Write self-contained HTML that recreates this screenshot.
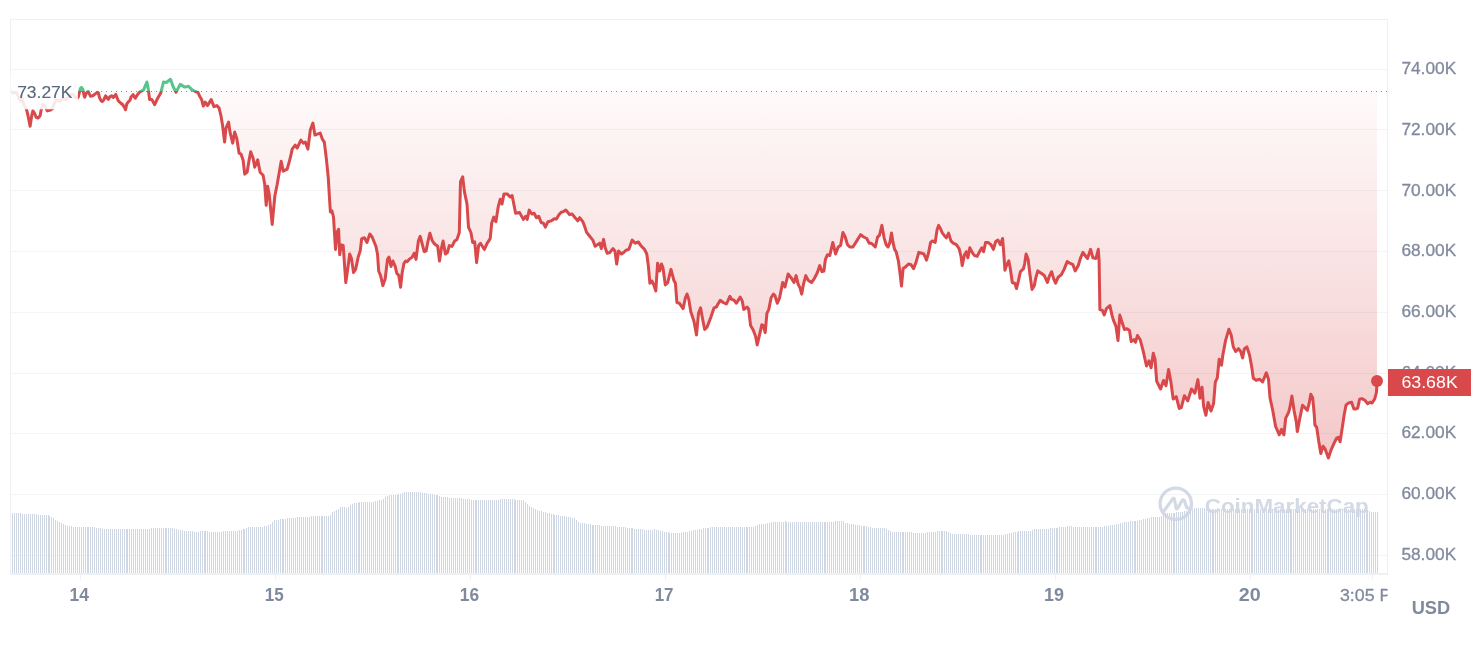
<!DOCTYPE html>
<html><head><meta charset="utf-8"><style>
html,body{margin:0;padding:0;background:#fff;}
body{width:1478px;height:648px;overflow:hidden;position:relative;font-family:"Liberation Sans",sans-serif;}
svg{position:absolute;left:0;top:0;will-change:transform;}
</style></head><body>
<svg width="1478" height="648" viewBox="0 0 1478 648">
<defs>
<linearGradient id="rg" gradientUnits="userSpaceOnUse" x1="0" y1="57" x2="0" y2="458">
<stop offset="0" stop-color="#d9484a" stop-opacity="0"/>
<stop offset="1" stop-color="#d9484a" stop-opacity="0.30"/>
</linearGradient>
<linearGradient id="gg" gradientUnits="userSpaceOnUse" x1="0" y1="78" x2="0" y2="92">
<stop offset="0" stop-color="#58c38b" stop-opacity="0.06"/>
<stop offset="1" stop-color="#58c38b" stop-opacity="0"/>
</linearGradient>
<clipPath id="below"><rect x="0" y="91" width="1478" height="600"/></clipPath>
<clipPath id="above"><rect x="0" y="0" width="1478" height="91"/></clipPath>
<clipPath id="plot"><rect x="11" y="20" width="1376" height="553"/></clipPath>
<clipPath id="xclip"><rect x="0" y="560" width="1387.5" height="88"/></clipPath>
</defs>
<g fill="#f3f4f6" shape-rendering="crispEdges"><rect x="11" y="69" width="1376" height="1"/><rect x="11" y="129" width="1376" height="1"/><rect x="11" y="190" width="1376" height="1"/><rect x="11" y="251" width="1376" height="1"/><rect x="11" y="312" width="1376" height="1"/><rect x="11" y="373" width="1376" height="1"/><rect x="11" y="433" width="1376" height="1"/><rect x="11" y="494" width="1376" height="1"/><rect x="11" y="555" width="1376" height="1"/></g>
<g fill="#cfd6e4" shape-rendering="crispEdges">
<rect x="12" y="512.9" width="1" height="60.1"/>
<rect x="14" y="513.1" width="1" height="59.9"/>
<rect x="16" y="513.2" width="1" height="59.8"/>
<rect x="18" y="513.3" width="1" height="59.7"/>
<rect x="20" y="513.4" width="1" height="59.6"/>
<rect x="22" y="513.6" width="1" height="59.4"/>
<rect x="24" y="513.7" width="1" height="59.3"/>
<rect x="26" y="513.8" width="1" height="59.2"/>
<rect x="28" y="513.9" width="1" height="59.1"/>
<rect x="30" y="514.1" width="1" height="58.9"/>
<rect x="32" y="514.2" width="1" height="58.8"/>
<rect x="34" y="514.3" width="1" height="58.7"/>
<rect x="36" y="514.4" width="1" height="58.6"/>
<rect x="38" y="514.6" width="1" height="58.4"/>
<rect x="40" y="514.7" width="1" height="58.3"/>
<rect x="42" y="514.9" width="1" height="58.1"/>
<rect x="44" y="515" width="1" height="58"/>
<rect x="46" y="515.1" width="1" height="57.9"/>
<rect x="48" y="515.3" width="1" height="57.7"/>
<rect x="49" y="515.6" width="1" height="57.4"/>
<rect x="51" y="516.9" width="1" height="56.1"/>
<rect x="53" y="518.2" width="1" height="54.8"/>
<rect x="55" y="519.5" width="1" height="53.5"/>
<rect x="57" y="520.7" width="1" height="52.3"/>
<rect x="59" y="521.7" width="1" height="51.3"/>
<rect x="61" y="522.8" width="1" height="50.2"/>
<rect x="63" y="523.9" width="1" height="49.1"/>
<rect x="65" y="525" width="1" height="48"/>
<rect x="67" y="525.6" width="1" height="47.4"/>
<rect x="69" y="525.9" width="1" height="47.1"/>
<rect x="71" y="526.3" width="1" height="46.7"/>
<rect x="73" y="526.6" width="1" height="46.4"/>
<rect x="75" y="526.9" width="1" height="46.1"/>
<rect x="77" y="527" width="1" height="46"/>
<rect x="79" y="527.1" width="1" height="45.9"/>
<rect x="81" y="527.1" width="1" height="45.9"/>
<rect x="83" y="527.2" width="1" height="45.8"/>
<rect x="85" y="527.2" width="1" height="45.8"/>
<rect x="87" y="527.3" width="1" height="45.7"/>
<rect x="88" y="527.3" width="1" height="45.7"/>
<rect x="90" y="527.3" width="1" height="45.7"/>
<rect x="92" y="527.4" width="1" height="45.6"/>
<rect x="94" y="527.4" width="1" height="45.6"/>
<rect x="96" y="527.5" width="1" height="45.5"/>
<rect x="98" y="527.7" width="1" height="45.3"/>
<rect x="100" y="528.1" width="1" height="44.9"/>
<rect x="102" y="528.5" width="1" height="44.5"/>
<rect x="104" y="528.5" width="1" height="44.5"/>
<rect x="106" y="528.5" width="1" height="44.5"/>
<rect x="108" y="528.5" width="1" height="44.5"/>
<rect x="110" y="528.5" width="1" height="44.5"/>
<rect x="112" y="528.5" width="1" height="44.5"/>
<rect x="114" y="528.5" width="1" height="44.5"/>
<rect x="116" y="528.5" width="1" height="44.5"/>
<rect x="118" y="528.5" width="1" height="44.5"/>
<rect x="120" y="528.5" width="1" height="44.5"/>
<rect x="122" y="528.5" width="1" height="44.5"/>
<rect x="124" y="528.5" width="1" height="44.5"/>
<rect x="126" y="529.1" width="1" height="43.9"/>
<rect x="127" y="529.2" width="1" height="43.8"/>
<rect x="129" y="529.2" width="1" height="43.8"/>
<rect x="131" y="529.2" width="1" height="43.8"/>
<rect x="133" y="529.2" width="1" height="43.8"/>
<rect x="135" y="529.2" width="1" height="43.8"/>
<rect x="137" y="529.2" width="1" height="43.8"/>
<rect x="139" y="529.2" width="1" height="43.8"/>
<rect x="141" y="529.2" width="1" height="43.8"/>
<rect x="143" y="529.2" width="1" height="43.8"/>
<rect x="145" y="529.2" width="1" height="43.8"/>
<rect x="147" y="529.2" width="1" height="43.8"/>
<rect x="149" y="528.5" width="1" height="44.5"/>
<rect x="151" y="528" width="1" height="45"/>
<rect x="153" y="528" width="1" height="45"/>
<rect x="155" y="528" width="1" height="45"/>
<rect x="157" y="528" width="1" height="45"/>
<rect x="159" y="528" width="1" height="45"/>
<rect x="161" y="528" width="1" height="45"/>
<rect x="163" y="528" width="1" height="45"/>
<rect x="165" y="528" width="1" height="45"/>
<rect x="166" y="528" width="1" height="45"/>
<rect x="168" y="528" width="1" height="45"/>
<rect x="170" y="528" width="1" height="45"/>
<rect x="172" y="528.4" width="1" height="44.6"/>
<rect x="174" y="528.8" width="1" height="44.2"/>
<rect x="176" y="529.2" width="1" height="43.8"/>
<rect x="178" y="529.6" width="1" height="43.4"/>
<rect x="180" y="530" width="1" height="43"/>
<rect x="182" y="530.4" width="1" height="42.6"/>
<rect x="184" y="530.9" width="1" height="42.1"/>
<rect x="186" y="531.1" width="1" height="41.9"/>
<rect x="188" y="531.1" width="1" height="41.9"/>
<rect x="190" y="531.1" width="1" height="41.9"/>
<rect x="192" y="531.1" width="1" height="41.9"/>
<rect x="194" y="531.9" width="1" height="41.1"/>
<rect x="196" y="531.9" width="1" height="41.1"/>
<rect x="198" y="531.6" width="1" height="41.4"/>
<rect x="200" y="531.4" width="1" height="41.6"/>
<rect x="202" y="531.1" width="1" height="41.9"/>
<rect x="204" y="531.2" width="1" height="41.8"/>
<rect x="205" y="531.3" width="1" height="41.7"/>
<rect x="207" y="531.4" width="1" height="41.6"/>
<rect x="209" y="531.5" width="1" height="41.5"/>
<rect x="211" y="531.6" width="1" height="41.4"/>
<rect x="213" y="531.7" width="1" height="41.3"/>
<rect x="215" y="531.8" width="1" height="41.2"/>
<rect x="217" y="531.9" width="1" height="41.1"/>
<rect x="219" y="532" width="1" height="41"/>
<rect x="221" y="531.6" width="1" height="41.4"/>
<rect x="223" y="531.2" width="1" height="41.8"/>
<rect x="225" y="531" width="1" height="42"/>
<rect x="227" y="531" width="1" height="42"/>
<rect x="229" y="530.9" width="1" height="42.1"/>
<rect x="231" y="530.8" width="1" height="42.2"/>
<rect x="233" y="530.7" width="1" height="42.3"/>
<rect x="235" y="530.6" width="1" height="42.4"/>
<rect x="237" y="530.5" width="1" height="42.5"/>
<rect x="239" y="530.4" width="1" height="42.6"/>
<rect x="241" y="530.3" width="1" height="42.7"/>
<rect x="243" y="529.4" width="1" height="43.6"/>
<rect x="244" y="529" width="1" height="44"/>
<rect x="246" y="528.2" width="1" height="44.8"/>
<rect x="248" y="527.4" width="1" height="45.6"/>
<rect x="250" y="527.3" width="1" height="45.7"/>
<rect x="252" y="527.2" width="1" height="45.8"/>
<rect x="254" y="527.2" width="1" height="45.8"/>
<rect x="256" y="527.1" width="1" height="45.9"/>
<rect x="258" y="527.1" width="1" height="45.9"/>
<rect x="260" y="527" width="1" height="46"/>
<rect x="262" y="526.6" width="1" height="46.4"/>
<rect x="264" y="526.2" width="1" height="46.8"/>
<rect x="266" y="525.7" width="1" height="47.3"/>
<rect x="268" y="525.1" width="1" height="47.9"/>
<rect x="270" y="523.5" width="1" height="49.5"/>
<rect x="272" y="521.9" width="1" height="51.1"/>
<rect x="274" y="520.4" width="1" height="52.6"/>
<rect x="276" y="520.1" width="1" height="52.9"/>
<rect x="278" y="519.7" width="1" height="53.3"/>
<rect x="280" y="519.4" width="1" height="53.6"/>
<rect x="282" y="519" width="1" height="54"/>
<rect x="283" y="518.8" width="1" height="54.2"/>
<rect x="285" y="518.5" width="1" height="54.5"/>
<rect x="287" y="518.3" width="1" height="54.7"/>
<rect x="289" y="518.1" width="1" height="54.9"/>
<rect x="291" y="517.9" width="1" height="55.1"/>
<rect x="293" y="517.8" width="1" height="55.2"/>
<rect x="295" y="517.6" width="1" height="55.4"/>
<rect x="297" y="517.4" width="1" height="55.6"/>
<rect x="299" y="517.2" width="1" height="55.8"/>
<rect x="301" y="517.1" width="1" height="55.9"/>
<rect x="303" y="516.9" width="1" height="56.1"/>
<rect x="305" y="516.8" width="1" height="56.2"/>
<rect x="307" y="516.6" width="1" height="56.4"/>
<rect x="309" y="516.5" width="1" height="56.5"/>
<rect x="311" y="516.3" width="1" height="56.7"/>
<rect x="313" y="516.3" width="1" height="56.7"/>
<rect x="315" y="516.3" width="1" height="56.7"/>
<rect x="317" y="516.3" width="1" height="56.7"/>
<rect x="319" y="516.3" width="1" height="56.7"/>
<rect x="321" y="516.3" width="1" height="56.7"/>
<rect x="322" y="516.3" width="1" height="56.7"/>
<rect x="324" y="516.3" width="1" height="56.7"/>
<rect x="326" y="516.3" width="1" height="56.7"/>
<rect x="328" y="516.3" width="1" height="56.7"/>
<rect x="330" y="514.6" width="1" height="58.4"/>
<rect x="332" y="512.4" width="1" height="60.6"/>
<rect x="334" y="511.1" width="1" height="61.9"/>
<rect x="336" y="509.8" width="1" height="63.2"/>
<rect x="338" y="508.5" width="1" height="64.5"/>
<rect x="340" y="507.2" width="1" height="65.8"/>
<rect x="342" y="507" width="1" height="66"/>
<rect x="344" y="507.4" width="1" height="65.6"/>
<rect x="346" y="507.8" width="1" height="65.2"/>
<rect x="348" y="506.7" width="1" height="66.3"/>
<rect x="350" y="504.6" width="1" height="68.4"/>
<rect x="352" y="503.8" width="1" height="69.2"/>
<rect x="354" y="503.4" width="1" height="69.6"/>
<rect x="356" y="503" width="1" height="70"/>
<rect x="358" y="502.6" width="1" height="70.4"/>
<rect x="359" y="502.4" width="1" height="70.6"/>
<rect x="361" y="502.2" width="1" height="70.8"/>
<rect x="363" y="502.2" width="1" height="70.8"/>
<rect x="365" y="502.2" width="1" height="70.8"/>
<rect x="367" y="502.2" width="1" height="70.8"/>
<rect x="369" y="502.2" width="1" height="70.8"/>
<rect x="371" y="501.9" width="1" height="71.1"/>
<rect x="373" y="501.6" width="1" height="71.4"/>
<rect x="375" y="501.1" width="1" height="71.9"/>
<rect x="377" y="500.6" width="1" height="72.4"/>
<rect x="379" y="500" width="1" height="73"/>
<rect x="381" y="499.5" width="1" height="73.5"/>
<rect x="383" y="498.6" width="1" height="74.4"/>
<rect x="385" y="496.8" width="1" height="76.2"/>
<rect x="387" y="495.5" width="1" height="77.5"/>
<rect x="389" y="495.3" width="1" height="77.7"/>
<rect x="391" y="495.1" width="1" height="77.9"/>
<rect x="393" y="494.9" width="1" height="78.1"/>
<rect x="395" y="494.7" width="1" height="78.3"/>
<rect x="397" y="494.5" width="1" height="78.5"/>
<rect x="398" y="494.4" width="1" height="78.6"/>
<rect x="400" y="493.8" width="1" height="79.2"/>
<rect x="402" y="493.1" width="1" height="79.9"/>
<rect x="404" y="492.4" width="1" height="80.6"/>
<rect x="406" y="492.2" width="1" height="80.8"/>
<rect x="408" y="492.2" width="1" height="80.8"/>
<rect x="410" y="492.2" width="1" height="80.8"/>
<rect x="412" y="492.2" width="1" height="80.8"/>
<rect x="414" y="492.2" width="1" height="80.8"/>
<rect x="416" y="492.2" width="1" height="80.8"/>
<rect x="418" y="492.2" width="1" height="80.8"/>
<rect x="420" y="492.2" width="1" height="80.8"/>
<rect x="422" y="492.5" width="1" height="80.5"/>
<rect x="424" y="492.8" width="1" height="80.2"/>
<rect x="426" y="493.1" width="1" height="79.9"/>
<rect x="428" y="493.5" width="1" height="79.5"/>
<rect x="430" y="493.8" width="1" height="79.2"/>
<rect x="432" y="494.2" width="1" height="78.8"/>
<rect x="434" y="494.6" width="1" height="78.4"/>
<rect x="436" y="495" width="1" height="78"/>
<rect x="437" y="495.2" width="1" height="77.8"/>
<rect x="439" y="495.8" width="1" height="77.2"/>
<rect x="441" y="496.5" width="1" height="76.5"/>
<rect x="443" y="497.1" width="1" height="75.9"/>
<rect x="445" y="497.2" width="1" height="75.8"/>
<rect x="447" y="497.4" width="1" height="75.6"/>
<rect x="449" y="497.5" width="1" height="75.5"/>
<rect x="451" y="497.7" width="1" height="75.3"/>
<rect x="453" y="497.8" width="1" height="75.2"/>
<rect x="455" y="498" width="1" height="75"/>
<rect x="457" y="498.1" width="1" height="74.9"/>
<rect x="459" y="498.3" width="1" height="74.7"/>
<rect x="461" y="498.4" width="1" height="74.6"/>
<rect x="463" y="498.6" width="1" height="74.4"/>
<rect x="465" y="498.8" width="1" height="74.2"/>
<rect x="467" y="499" width="1" height="74"/>
<rect x="469" y="499.2" width="1" height="73.8"/>
<rect x="471" y="500" width="1" height="73"/>
<rect x="473" y="500.2" width="1" height="72.8"/>
<rect x="475" y="500.2" width="1" height="72.8"/>
<rect x="476" y="500.2" width="1" height="72.8"/>
<rect x="478" y="500.2" width="1" height="72.8"/>
<rect x="480" y="500.2" width="1" height="72.8"/>
<rect x="482" y="500.2" width="1" height="72.8"/>
<rect x="484" y="500.2" width="1" height="72.8"/>
<rect x="486" y="500.2" width="1" height="72.8"/>
<rect x="488" y="500.2" width="1" height="72.8"/>
<rect x="490" y="500.2" width="1" height="72.8"/>
<rect x="492" y="500.2" width="1" height="72.8"/>
<rect x="494" y="500.2" width="1" height="72.8"/>
<rect x="496" y="500.2" width="1" height="72.8"/>
<rect x="498" y="500.2" width="1" height="72.8"/>
<rect x="500" y="499.4" width="1" height="73.6"/>
<rect x="502" y="499" width="1" height="74"/>
<rect x="504" y="499.1" width="1" height="73.9"/>
<rect x="506" y="499.2" width="1" height="73.8"/>
<rect x="508" y="499.2" width="1" height="73.8"/>
<rect x="510" y="499.3" width="1" height="73.7"/>
<rect x="512" y="499.4" width="1" height="73.6"/>
<rect x="514" y="499.4" width="1" height="73.6"/>
<rect x="515" y="499.5" width="1" height="73.5"/>
<rect x="517" y="499.5" width="1" height="73.5"/>
<rect x="519" y="499.6" width="1" height="73.4"/>
<rect x="521" y="499.6" width="1" height="73.4"/>
<rect x="523" y="500" width="1" height="73"/>
<rect x="525" y="502" width="1" height="71"/>
<rect x="527" y="503.9" width="1" height="69.1"/>
<rect x="529" y="505.5" width="1" height="67.5"/>
<rect x="531" y="507" width="1" height="66"/>
<rect x="533" y="508.2" width="1" height="64.8"/>
<rect x="535" y="509" width="1" height="64"/>
<rect x="537" y="509.8" width="1" height="63.2"/>
<rect x="539" y="510.6" width="1" height="62.4"/>
<rect x="541" y="511.3" width="1" height="61.7"/>
<rect x="543" y="511.8" width="1" height="61.2"/>
<rect x="545" y="512.4" width="1" height="60.6"/>
<rect x="547" y="513" width="1" height="60"/>
<rect x="549" y="513.4" width="1" height="59.6"/>
<rect x="551" y="513.9" width="1" height="59.1"/>
<rect x="553" y="514.3" width="1" height="58.7"/>
<rect x="554" y="514.5" width="1" height="58.5"/>
<rect x="556" y="514.9" width="1" height="58.1"/>
<rect x="558" y="515.2" width="1" height="57.8"/>
<rect x="560" y="515.5" width="1" height="57.5"/>
<rect x="562" y="515.9" width="1" height="57.1"/>
<rect x="564" y="516.2" width="1" height="56.8"/>
<rect x="566" y="516.5" width="1" height="56.5"/>
<rect x="568" y="516.9" width="1" height="56.1"/>
<rect x="570" y="517.3" width="1" height="55.7"/>
<rect x="572" y="517.7" width="1" height="55.3"/>
<rect x="574" y="518.2" width="1" height="54.8"/>
<rect x="576" y="519.9" width="1" height="53.1"/>
<rect x="578" y="521.6" width="1" height="51.4"/>
<rect x="580" y="522.5" width="1" height="50.5"/>
<rect x="582" y="522.9" width="1" height="50.1"/>
<rect x="584" y="523.4" width="1" height="49.6"/>
<rect x="586" y="523.8" width="1" height="49.2"/>
<rect x="588" y="524" width="1" height="49"/>
<rect x="590" y="524.3" width="1" height="48.7"/>
<rect x="592" y="524.5" width="1" height="48.5"/>
<rect x="593" y="524.6" width="1" height="48.4"/>
<rect x="595" y="524.8" width="1" height="48.2"/>
<rect x="597" y="525.1" width="1" height="47.9"/>
<rect x="599" y="525.3" width="1" height="47.7"/>
<rect x="601" y="525.5" width="1" height="47.5"/>
<rect x="603" y="525.6" width="1" height="47.4"/>
<rect x="605" y="525.8" width="1" height="47.2"/>
<rect x="607" y="525.9" width="1" height="47.1"/>
<rect x="609" y="526" width="1" height="47"/>
<rect x="611" y="526.1" width="1" height="46.9"/>
<rect x="613" y="526.2" width="1" height="46.8"/>
<rect x="615" y="526.4" width="1" height="46.6"/>
<rect x="617" y="526.5" width="1" height="46.5"/>
<rect x="619" y="526.6" width="1" height="46.4"/>
<rect x="621" y="526.7" width="1" height="46.3"/>
<rect x="623" y="526.9" width="1" height="46.1"/>
<rect x="625" y="527.2" width="1" height="45.8"/>
<rect x="627" y="527.6" width="1" height="45.4"/>
<rect x="629" y="527.9" width="1" height="45.1"/>
<rect x="631" y="528.3" width="1" height="44.7"/>
<rect x="632" y="528.4" width="1" height="44.6"/>
<rect x="634" y="528.7" width="1" height="44.3"/>
<rect x="636" y="528.8" width="1" height="44.2"/>
<rect x="638" y="529" width="1" height="44"/>
<rect x="640" y="529.2" width="1" height="43.8"/>
<rect x="642" y="529.4" width="1" height="43.6"/>
<rect x="644" y="529.6" width="1" height="43.4"/>
<rect x="646" y="529.8" width="1" height="43.2"/>
<rect x="648" y="530" width="1" height="43"/>
<rect x="650" y="530" width="1" height="43"/>
<rect x="652" y="529.6" width="1" height="43.4"/>
<rect x="654" y="529.2" width="1" height="43.8"/>
<rect x="656" y="529.6" width="1" height="43.4"/>
<rect x="658" y="530.1" width="1" height="42.9"/>
<rect x="660" y="530.6" width="1" height="42.4"/>
<rect x="662" y="531.1" width="1" height="41.9"/>
<rect x="664" y="531.5" width="1" height="41.5"/>
<rect x="666" y="531.9" width="1" height="41.1"/>
<rect x="668" y="532.3" width="1" height="40.7"/>
<rect x="669" y="532.5" width="1" height="40.5"/>
<rect x="671" y="533" width="1" height="40"/>
<rect x="673" y="532.9" width="1" height="40.1"/>
<rect x="675" y="532.8" width="1" height="40.2"/>
<rect x="677" y="532.7" width="1" height="40.3"/>
<rect x="679" y="532.6" width="1" height="40.4"/>
<rect x="681" y="532.5" width="1" height="40.5"/>
<rect x="683" y="532.4" width="1" height="40.6"/>
<rect x="685" y="532" width="1" height="41"/>
<rect x="687" y="531.6" width="1" height="41.4"/>
<rect x="689" y="531.2" width="1" height="41.8"/>
<rect x="691" y="530.7" width="1" height="42.3"/>
<rect x="693" y="530.3" width="1" height="42.7"/>
<rect x="695" y="529.9" width="1" height="43.1"/>
<rect x="697" y="529.5" width="1" height="43.5"/>
<rect x="699" y="529.1" width="1" height="43.9"/>
<rect x="701" y="528.7" width="1" height="44.3"/>
<rect x="703" y="528.4" width="1" height="44.6"/>
<rect x="705" y="528.1" width="1" height="44.9"/>
<rect x="707" y="527.8" width="1" height="45.2"/>
<rect x="708" y="527.6" width="1" height="45.4"/>
<rect x="710" y="527.3" width="1" height="45.7"/>
<rect x="712" y="527.3" width="1" height="45.7"/>
<rect x="714" y="527.3" width="1" height="45.7"/>
<rect x="716" y="527.3" width="1" height="45.7"/>
<rect x="718" y="527.2" width="1" height="45.8"/>
<rect x="720" y="527.2" width="1" height="45.8"/>
<rect x="722" y="527.2" width="1" height="45.8"/>
<rect x="724" y="527.2" width="1" height="45.8"/>
<rect x="726" y="527.2" width="1" height="45.8"/>
<rect x="728" y="527.2" width="1" height="45.8"/>
<rect x="730" y="527.2" width="1" height="45.8"/>
<rect x="732" y="527.1" width="1" height="45.9"/>
<rect x="734" y="527.1" width="1" height="45.9"/>
<rect x="736" y="527.1" width="1" height="45.9"/>
<rect x="738" y="527.1" width="1" height="45.9"/>
<rect x="740" y="527.1" width="1" height="45.9"/>
<rect x="742" y="527.1" width="1" height="45.9"/>
<rect x="744" y="527.1" width="1" height="45.9"/>
<rect x="746" y="527.1" width="1" height="45.9"/>
<rect x="747" y="527" width="1" height="46"/>
<rect x="749" y="527" width="1" height="46"/>
<rect x="751" y="527" width="1" height="46"/>
<rect x="753" y="527" width="1" height="46"/>
<rect x="755" y="525.9" width="1" height="47.1"/>
<rect x="757" y="524.6" width="1" height="48.4"/>
<rect x="759" y="524.3" width="1" height="48.7"/>
<rect x="761" y="524.1" width="1" height="48.9"/>
<rect x="763" y="523.8" width="1" height="49.2"/>
<rect x="765" y="523.5" width="1" height="49.5"/>
<rect x="767" y="523.2" width="1" height="49.8"/>
<rect x="769" y="522.9" width="1" height="50.1"/>
<rect x="771" y="522.4" width="1" height="50.6"/>
<rect x="773" y="522.2" width="1" height="50.8"/>
<rect x="775" y="522.2" width="1" height="50.8"/>
<rect x="777" y="522.2" width="1" height="50.8"/>
<rect x="779" y="522.2" width="1" height="50.8"/>
<rect x="781" y="522.2" width="1" height="50.8"/>
<rect x="783" y="522.2" width="1" height="50.8"/>
<rect x="785" y="521.4" width="1" height="51.6"/>
<rect x="786" y="521.5" width="1" height="51.5"/>
<rect x="788" y="521.8" width="1" height="51.2"/>
<rect x="790" y="522.1" width="1" height="50.9"/>
<rect x="792" y="522.2" width="1" height="50.8"/>
<rect x="794" y="522.2" width="1" height="50.8"/>
<rect x="796" y="522.2" width="1" height="50.8"/>
<rect x="798" y="522.2" width="1" height="50.8"/>
<rect x="800" y="522.2" width="1" height="50.8"/>
<rect x="802" y="522.2" width="1" height="50.8"/>
<rect x="804" y="522.2" width="1" height="50.8"/>
<rect x="806" y="522.2" width="1" height="50.8"/>
<rect x="808" y="522.2" width="1" height="50.8"/>
<rect x="810" y="522.2" width="1" height="50.8"/>
<rect x="812" y="522.2" width="1" height="50.8"/>
<rect x="814" y="522.2" width="1" height="50.8"/>
<rect x="816" y="522.2" width="1" height="50.8"/>
<rect x="818" y="522.2" width="1" height="50.8"/>
<rect x="820" y="522.2" width="1" height="50.8"/>
<rect x="822" y="522.2" width="1" height="50.8"/>
<rect x="824" y="522.2" width="1" height="50.8"/>
<rect x="825" y="522.2" width="1" height="50.8"/>
<rect x="827" y="522.2" width="1" height="50.8"/>
<rect x="829" y="522.2" width="1" height="50.8"/>
<rect x="831" y="522.2" width="1" height="50.8"/>
<rect x="833" y="521.6" width="1" height="51.4"/>
<rect x="835" y="521.4" width="1" height="51.6"/>
<rect x="837" y="521.4" width="1" height="51.6"/>
<rect x="839" y="521.4" width="1" height="51.6"/>
<rect x="841" y="521.4" width="1" height="51.6"/>
<rect x="843" y="521.4" width="1" height="51.6"/>
<rect x="845" y="522.5" width="1" height="50.5"/>
<rect x="847" y="523.3" width="1" height="49.7"/>
<rect x="849" y="523.6" width="1" height="49.4"/>
<rect x="851" y="523.9" width="1" height="49.1"/>
<rect x="853" y="524.2" width="1" height="48.8"/>
<rect x="855" y="524.5" width="1" height="48.5"/>
<rect x="857" y="524.8" width="1" height="48.2"/>
<rect x="859" y="525.2" width="1" height="47.8"/>
<rect x="861" y="525.5" width="1" height="47.5"/>
<rect x="863" y="525.8" width="1" height="47.2"/>
<rect x="864" y="526" width="1" height="47"/>
<rect x="866" y="526.4" width="1" height="46.6"/>
<rect x="868" y="526.8" width="1" height="46.2"/>
<rect x="870" y="527.2" width="1" height="45.8"/>
<rect x="872" y="527.6" width="1" height="45.4"/>
<rect x="874" y="528" width="1" height="45"/>
<rect x="876" y="528.2" width="1" height="44.8"/>
<rect x="878" y="528.2" width="1" height="44.8"/>
<rect x="880" y="528.2" width="1" height="44.8"/>
<rect x="882" y="528.2" width="1" height="44.8"/>
<rect x="884" y="528.2" width="1" height="44.8"/>
<rect x="886" y="528.9" width="1" height="44.1"/>
<rect x="888" y="530.1" width="1" height="42.9"/>
<rect x="890" y="531.2" width="1" height="41.8"/>
<rect x="892" y="531.6" width="1" height="41.4"/>
<rect x="894" y="532" width="1" height="41"/>
<rect x="896" y="532.1" width="1" height="40.9"/>
<rect x="898" y="532.1" width="1" height="40.9"/>
<rect x="900" y="532.1" width="1" height="40.9"/>
<rect x="902" y="532.1" width="1" height="40.9"/>
<rect x="903" y="532.1" width="1" height="40.9"/>
<rect x="905" y="532.1" width="1" height="40.9"/>
<rect x="907" y="532.1" width="1" height="40.9"/>
<rect x="909" y="532.1" width="1" height="40.9"/>
<rect x="911" y="532.1" width="1" height="40.9"/>
<rect x="913" y="532.6" width="1" height="40.4"/>
<rect x="915" y="533" width="1" height="40"/>
<rect x="917" y="532.9" width="1" height="40.1"/>
<rect x="919" y="532.8" width="1" height="40.2"/>
<rect x="921" y="532.7" width="1" height="40.3"/>
<rect x="923" y="532.6" width="1" height="40.4"/>
<rect x="925" y="532.5" width="1" height="40.5"/>
<rect x="927" y="532.4" width="1" height="40.6"/>
<rect x="929" y="532.3" width="1" height="40.7"/>
<rect x="931" y="532.2" width="1" height="40.8"/>
<rect x="933" y="532.1" width="1" height="40.9"/>
<rect x="935" y="531.5" width="1" height="41.5"/>
<rect x="937" y="531.1" width="1" height="41.9"/>
<rect x="939" y="531.1" width="1" height="41.9"/>
<rect x="941" y="531.1" width="1" height="41.9"/>
<rect x="942" y="531.1" width="1" height="41.9"/>
<rect x="944" y="531.1" width="1" height="41.9"/>
<rect x="946" y="531.2" width="1" height="41.8"/>
<rect x="948" y="532" width="1" height="41"/>
<rect x="950" y="532.8" width="1" height="40.2"/>
<rect x="952" y="533.6" width="1" height="39.4"/>
<rect x="954" y="534" width="1" height="39"/>
<rect x="956" y="534" width="1" height="39"/>
<rect x="958" y="534" width="1" height="39"/>
<rect x="960" y="534" width="1" height="39"/>
<rect x="962" y="534" width="1" height="39"/>
<rect x="964" y="534" width="1" height="39"/>
<rect x="966" y="534" width="1" height="39"/>
<rect x="968" y="534.1" width="1" height="38.9"/>
<rect x="970" y="535.1" width="1" height="37.9"/>
<rect x="972" y="535.2" width="1" height="37.8"/>
<rect x="974" y="535.2" width="1" height="37.8"/>
<rect x="976" y="535.2" width="1" height="37.8"/>
<rect x="978" y="535.2" width="1" height="37.8"/>
<rect x="980" y="535.2" width="1" height="37.8"/>
<rect x="981" y="535.2" width="1" height="37.8"/>
<rect x="983" y="535.2" width="1" height="37.8"/>
<rect x="985" y="535.2" width="1" height="37.8"/>
<rect x="987" y="535.2" width="1" height="37.8"/>
<rect x="989" y="535.2" width="1" height="37.8"/>
<rect x="991" y="535.2" width="1" height="37.8"/>
<rect x="993" y="535.2" width="1" height="37.8"/>
<rect x="995" y="535.2" width="1" height="37.8"/>
<rect x="997" y="535.2" width="1" height="37.8"/>
<rect x="999" y="535.2" width="1" height="37.8"/>
<rect x="1001" y="535.2" width="1" height="37.8"/>
<rect x="1003" y="534.8" width="1" height="38.2"/>
<rect x="1005" y="534.1" width="1" height="38.9"/>
<rect x="1007" y="533.5" width="1" height="39.5"/>
<rect x="1009" y="533.1" width="1" height="39.9"/>
<rect x="1011" y="532.7" width="1" height="40.3"/>
<rect x="1013" y="532.3" width="1" height="40.7"/>
<rect x="1015" y="531.9" width="1" height="41.1"/>
<rect x="1017" y="531.5" width="1" height="41.5"/>
<rect x="1018" y="531.3" width="1" height="41.7"/>
<rect x="1020" y="531" width="1" height="42"/>
<rect x="1022" y="530.9" width="1" height="42.1"/>
<rect x="1024" y="530.8" width="1" height="42.2"/>
<rect x="1026" y="530.7" width="1" height="42.3"/>
<rect x="1028" y="530.6" width="1" height="42.4"/>
<rect x="1030" y="530.5" width="1" height="42.5"/>
<rect x="1032" y="529.9" width="1" height="43.1"/>
<rect x="1034" y="529.2" width="1" height="43.8"/>
<rect x="1036" y="529.1" width="1" height="43.9"/>
<rect x="1038" y="529" width="1" height="44"/>
<rect x="1040" y="528.9" width="1" height="44.1"/>
<rect x="1042" y="528.8" width="1" height="44.2"/>
<rect x="1044" y="528.7" width="1" height="44.3"/>
<rect x="1046" y="528.6" width="1" height="44.4"/>
<rect x="1048" y="528.5" width="1" height="44.5"/>
<rect x="1050" y="528.3" width="1" height="44.7"/>
<rect x="1052" y="528.1" width="1" height="44.9"/>
<rect x="1054" y="527.9" width="1" height="45.1"/>
<rect x="1056" y="527.7" width="1" height="45.3"/>
<rect x="1057" y="527.6" width="1" height="45.4"/>
<rect x="1059" y="527.3" width="1" height="45.7"/>
<rect x="1061" y="527.1" width="1" height="45.9"/>
<rect x="1063" y="526.8" width="1" height="46.2"/>
<rect x="1065" y="526.5" width="1" height="46.5"/>
<rect x="1067" y="526.3" width="1" height="46.7"/>
<rect x="1069" y="526.2" width="1" height="46.8"/>
<rect x="1071" y="526.4" width="1" height="46.6"/>
<rect x="1073" y="526.7" width="1" height="46.3"/>
<rect x="1075" y="527" width="1" height="46"/>
<rect x="1077" y="527.2" width="1" height="45.8"/>
<rect x="1079" y="527.3" width="1" height="45.7"/>
<rect x="1081" y="527.3" width="1" height="45.7"/>
<rect x="1083" y="527.3" width="1" height="45.7"/>
<rect x="1085" y="527.3" width="1" height="45.7"/>
<rect x="1087" y="527.3" width="1" height="45.7"/>
<rect x="1089" y="527.3" width="1" height="45.7"/>
<rect x="1091" y="527.3" width="1" height="45.7"/>
<rect x="1093" y="527.3" width="1" height="45.7"/>
<rect x="1095" y="527.3" width="1" height="45.7"/>
<rect x="1096" y="527.3" width="1" height="45.7"/>
<rect x="1098" y="527.3" width="1" height="45.7"/>
<rect x="1100" y="527.2" width="1" height="45.8"/>
<rect x="1102" y="526.6" width="1" height="46.4"/>
<rect x="1104" y="526.1" width="1" height="46.9"/>
<rect x="1106" y="525.8" width="1" height="47.2"/>
<rect x="1108" y="525.6" width="1" height="47.4"/>
<rect x="1110" y="525.3" width="1" height="47.7"/>
<rect x="1112" y="525.1" width="1" height="47.9"/>
<rect x="1114" y="524.8" width="1" height="48.2"/>
<rect x="1116" y="524.4" width="1" height="48.6"/>
<rect x="1118" y="523.9" width="1" height="49.1"/>
<rect x="1120" y="523.4" width="1" height="49.6"/>
<rect x="1122" y="522.9" width="1" height="50.1"/>
<rect x="1124" y="522.3" width="1" height="50.7"/>
<rect x="1126" y="521.7" width="1" height="51.3"/>
<rect x="1128" y="521.5" width="1" height="51.5"/>
<rect x="1130" y="521.3" width="1" height="51.7"/>
<rect x="1132" y="521.2" width="1" height="51.8"/>
<rect x="1134" y="521" width="1" height="52"/>
<rect x="1135" y="520.9" width="1" height="52.1"/>
<rect x="1137" y="520.5" width="1" height="52.5"/>
<rect x="1139" y="520.1" width="1" height="52.9"/>
<rect x="1141" y="519.6" width="1" height="53.4"/>
<rect x="1143" y="519.1" width="1" height="53.9"/>
<rect x="1145" y="518.6" width="1" height="54.4"/>
<rect x="1147" y="518.2" width="1" height="54.8"/>
<rect x="1149" y="517.7" width="1" height="55.3"/>
<rect x="1151" y="517.3" width="1" height="55.7"/>
<rect x="1153" y="517.1" width="1" height="55.9"/>
<rect x="1155" y="517" width="1" height="56"/>
<rect x="1157" y="516.8" width="1" height="56.2"/>
<rect x="1159" y="516.7" width="1" height="56.3"/>
<rect x="1161" y="515.9" width="1" height="57.1"/>
<rect x="1163" y="514.5" width="1" height="58.5"/>
<rect x="1165" y="513.4" width="1" height="59.6"/>
<rect x="1167" y="513.2" width="1" height="59.8"/>
<rect x="1169" y="513" width="1" height="60"/>
<rect x="1171" y="512.8" width="1" height="60.2"/>
<rect x="1173" y="512.6" width="1" height="60.4"/>
<rect x="1174" y="512.5" width="1" height="60.5"/>
<rect x="1176" y="512.3" width="1" height="60.7"/>
<rect x="1178" y="512" width="1" height="61"/>
<rect x="1180" y="511.8" width="1" height="61.2"/>
<rect x="1182" y="511.6" width="1" height="61.4"/>
<rect x="1184" y="511.4" width="1" height="61.6"/>
<rect x="1186" y="510.8" width="1" height="62.2"/>
<rect x="1188" y="510.2" width="1" height="62.8"/>
<rect x="1190" y="509.6" width="1" height="63.4"/>
<rect x="1192" y="508.8" width="1" height="64.2"/>
<rect x="1194" y="508.1" width="1" height="64.9"/>
<rect x="1196" y="508.1" width="1" height="64.9"/>
<rect x="1198" y="508.1" width="1" height="64.9"/>
<rect x="1200" y="508.1" width="1" height="64.9"/>
<rect x="1202" y="508.1" width="1" height="64.9"/>
<rect x="1204" y="508.4" width="1" height="64.6"/>
<rect x="1206" y="508.8" width="1" height="64.2"/>
<rect x="1208" y="509" width="1" height="64"/>
<rect x="1210" y="509" width="1" height="64"/>
<rect x="1212" y="509" width="1" height="64"/>
<rect x="1213" y="509" width="1" height="64"/>
<rect x="1215" y="509" width="1" height="64"/>
<rect x="1217" y="509" width="1" height="64"/>
<rect x="1219" y="509" width="1" height="64"/>
<rect x="1221" y="509" width="1" height="64"/>
<rect x="1223" y="509" width="1" height="64"/>
<rect x="1225" y="509" width="1" height="64"/>
<rect x="1227" y="509" width="1" height="64"/>
<rect x="1229" y="509" width="1" height="64"/>
<rect x="1231" y="509" width="1" height="64"/>
<rect x="1233" y="509" width="1" height="64"/>
<rect x="1235" y="509" width="1" height="64"/>
<rect x="1237" y="509" width="1" height="64"/>
<rect x="1239" y="509" width="1" height="64"/>
<rect x="1241" y="509" width="1" height="64"/>
<rect x="1243" y="509" width="1" height="64"/>
<rect x="1245" y="509" width="1" height="64"/>
<rect x="1247" y="509" width="1" height="64"/>
<rect x="1249" y="509" width="1" height="64"/>
<rect x="1251" y="509" width="1" height="64"/>
<rect x="1252" y="509" width="1" height="64"/>
<rect x="1254" y="509" width="1" height="64"/>
<rect x="1256" y="509" width="1" height="64"/>
<rect x="1258" y="509" width="1" height="64"/>
<rect x="1260" y="509" width="1" height="64"/>
<rect x="1262" y="509" width="1" height="64"/>
<rect x="1264" y="509" width="1" height="64"/>
<rect x="1266" y="509" width="1" height="64"/>
<rect x="1268" y="509" width="1" height="64"/>
<rect x="1270" y="509" width="1" height="64"/>
<rect x="1272" y="509" width="1" height="64"/>
<rect x="1274" y="509" width="1" height="64"/>
<rect x="1276" y="509" width="1" height="64"/>
<rect x="1278" y="509" width="1" height="64"/>
<rect x="1280" y="509" width="1" height="64"/>
<rect x="1282" y="509" width="1" height="64"/>
<rect x="1284" y="509" width="1" height="64"/>
<rect x="1286" y="509" width="1" height="64"/>
<rect x="1288" y="509" width="1" height="64"/>
<rect x="1290" y="509" width="1" height="64"/>
<rect x="1291" y="509" width="1" height="64"/>
<rect x="1293" y="509" width="1" height="64"/>
<rect x="1295" y="509" width="1" height="64"/>
<rect x="1297" y="509" width="1" height="64"/>
<rect x="1299" y="509" width="1" height="64"/>
<rect x="1301" y="509" width="1" height="64"/>
<rect x="1303" y="509" width="1" height="64"/>
<rect x="1305" y="509" width="1" height="64"/>
<rect x="1307" y="509" width="1" height="64"/>
<rect x="1309" y="509" width="1" height="64"/>
<rect x="1311" y="509" width="1" height="64"/>
<rect x="1313" y="509" width="1" height="64"/>
<rect x="1315" y="509" width="1" height="64"/>
<rect x="1317" y="509" width="1" height="64"/>
<rect x="1319" y="509" width="1" height="64"/>
<rect x="1321" y="509" width="1" height="64"/>
<rect x="1323" y="509" width="1" height="64"/>
<rect x="1325" y="509" width="1" height="64"/>
<rect x="1327" y="509" width="1" height="64"/>
<rect x="1328" y="509" width="1" height="64"/>
<rect x="1330" y="509" width="1" height="64"/>
<rect x="1332" y="509" width="1" height="64"/>
<rect x="1334" y="509" width="1" height="64"/>
<rect x="1336" y="509" width="1" height="64"/>
<rect x="1338" y="509" width="1" height="64"/>
<rect x="1340" y="509" width="1" height="64"/>
<rect x="1342" y="509" width="1" height="64"/>
<rect x="1344" y="509" width="1" height="64"/>
<rect x="1346" y="509" width="1" height="64"/>
<rect x="1348" y="509" width="1" height="64"/>
<rect x="1350" y="509" width="1" height="64"/>
<rect x="1352" y="509" width="1" height="64"/>
<rect x="1354" y="509" width="1" height="64"/>
<rect x="1356" y="509" width="1" height="64"/>
<rect x="1358" y="509" width="1" height="64"/>
<rect x="1360" y="509" width="1" height="64"/>
<rect x="1362" y="509" width="1" height="64"/>
<rect x="1364" y="509" width="1" height="64"/>
<rect x="1366" y="509.3" width="1" height="63.7"/>
<rect x="1367" y="509.9" width="1" height="63.1"/>
<rect x="1369" y="511.4" width="1" height="61.6"/>
<rect x="1371" y="512.1" width="1" height="60.9"/>
<rect x="1373" y="512.1" width="1" height="60.9"/>
<rect x="1375" y="512.1" width="1" height="60.9"/>
<rect x="1377" y="512.1" width="1" height="60.9"/>
</g>
<g fill="#eef0f4" shape-rendering="crispEdges">
<rect x="10" y="19" width="1378" height="1"/>
<rect x="10" y="19" width="1" height="555"/>
<rect x="1387" y="19" width="1" height="555"/>
<rect x="10" y="573" width="1378" height="2"/>
<rect x="80" y="575" width="1" height="5"/><rect x="275" y="575" width="1" height="5"/><rect x="470" y="575" width="1" height="5"/><rect x="665" y="575" width="1" height="5"/><rect x="860" y="575" width="1" height="5"/><rect x="1055" y="575" width="1" height="5"/><rect x="1250" y="575" width="1" height="5"/><rect x="1372" y="575" width="1" height="5"/>
</g>
<g opacity="0.9" fill="#cfd6e4">
<circle cx="1175.8" cy="503.8" r="15.7" fill="none" stroke="#cfd6e4" stroke-width="3.3"/>
<path d="M1163.8,511.2 L1172.4,499.2 Q1173.5,497.6 1174.5,499.4 L1176,507.8 Q1176.8,509.8 1177.8,507.9 L1182,500.6 Q1183.3,498.9 1184.5,500.8 L1186.5,507.2 Q1188,509.6 1191.2,507.3" fill="none" stroke="#cfd6e4" stroke-width="3.2" stroke-linejoin="round" stroke-linecap="round"/>
<text x="1204.8" y="512.6" font-size="20" font-weight="bold" textLength="164" lengthAdjust="spacingAndGlyphs">CoinMarketCap</text>
</g>
<g clip-path="url(#plot)">
<path d="M11.2,91.2 L13.6,93.2 L16,92 L18.4,96.5 L20.8,101.3 L22,99.3 L24,105.3 L26.5,109.3 L28,115.7 L30.1,126.2 L31.7,115.7 L32.9,110.9 L34.5,113.3 L36.1,117.3 L38.1,118.1 L40.1,115.7 L41.3,109.3 L42.5,104.5 L44.9,106.1 L47.3,110.9 L50.5,110.1 L52.5,108.5 L54.1,103.7 L56.2,99.7 L59.4,101.3 L62.6,98.5 L65.8,99.7 L69,96.5 L72.2,94 L75.4,97.3 L77.4,98 L78.3,96.9 L79.4,92.4 L80.3,88.6 L81.4,87.4 L82.8,89.1 L83.9,94.7 L84.7,97.2 L86.1,93.6 L88.1,91.3 L89.2,93.6 L90.6,96.3 L92.8,95.8 L95,94.1 L97.2,92.4 L98.3,92.7 L99.4,97.4 L101.1,100.8 L102.2,101.6 L103.9,99.7 L105.6,95.8 L107.2,98 L108.3,99.4 L109.7,96.9 L111.7,95.8 L113.3,97.4 L114.4,96.3 L115.8,94.4 L116.9,97.4 L118.3,100.8 L120.6,103 L122.8,104.7 L124.4,107.4 L125.6,109.7 L126.7,104.1 L128.3,101.9 L130,100.2 L131.1,96.9 L133.1,94.7 L135.3,98.2 L137.6,94.5 L139.9,91.8 L143.6,89.9 L146.9,82 L148.2,88.5 L149.6,99.6 L151.9,99.6 L154.7,104.7 L157,99.6 L160.7,93.1 L163.5,82 L166.3,82.5 L170.5,79.3 L173.2,86.7 L176,92.2 L180.2,84.4 L184.8,87.1 L188.5,86.2 L191.8,89.6 L195.5,91.5 L198,92.5 L199.5,96 L201.5,99.2 L203.3,106.1 L205.2,102 L207.5,105.6 L211.2,99.6 L214,106.6 L216.8,105.6 L219.1,108 L221,116 L222.5,125 L224.6,142.1 L226,128.1 L228.6,122.1 L230,132.1 L232.7,143.1 L234.7,132.1 L236.7,138.1 L239.1,153.2 L241.1,154.2 L243.1,160.2 L244.7,174.2 L247.1,172.2 L249.1,160.2 L250.7,151.8 L253.1,158.2 L254.7,167.2 L257.7,159.8 L260.1,172.2 L263.1,175.2 L264.7,184.3 L266.2,205.3 L267.6,186.3 L269.2,194.3 L272.2,224.4 L274.8,196.3 L277.2,184.3 L281.2,161.2 L283.2,171.2 L287.2,169.2 L290.2,158.2 L292.2,149.1 L295.2,145.1 L297.2,148.1 L300.9,140.1 L303.3,143.1 L305.3,142.1 L307.9,149.1 L310.3,130.1 L312.9,123.1 L314.9,135.1 L317.3,134.1 L320.3,133.1 L322.3,139.1 L324.3,142.1 L326.3,158.2 L328.3,178.2 L329.6,200 L330.4,212 L331.9,210.8 L333.5,217 L335.5,249.4 L337,232.4 L338.6,229.3 L339.7,254.8 L341.2,244.8 L343.2,245.5 L345.8,282.6 L348.1,266.4 L349.7,254 L351.5,258.6 L353.5,272.5 L355.6,269.4 L358.2,257.1 L360.2,250.9 L361.7,238.6 L364.4,237.8 L367,242.4 L369.8,234 L372.1,237 L375.9,246.3 L377.5,254 L378.7,271 L380.6,275.6 L382.9,285.6 L385.2,278.7 L387.5,259.4 L389,257.1 L391,266.4 L392.9,261 L395.2,266.4 L396.8,273.3 L398.8,275.6 L400.6,287.2 L402.2,272.5 L404,263.3 L405.6,261 L407.1,261.7 L409.1,259.4 L412.2,257.1 L414.2,253.2 L416,259.4 L418.4,240.9 L420.2,236.3 L422.2,244 L424.2,251.7 L426.1,250.9 L427.6,243.2 L429.9,233.2 L432.3,240.9 L434.6,244 L437.7,246.3 L439.5,261 L441.5,247.8 L443.1,241 L445.4,254.1 L447.4,252.6 L449.3,245.6 L452,246.4 L454.7,241 L457,239.4 L459.3,232.5 L460.5,181.6 L462.7,176.9 L464.4,191.6 L467,204 L468.5,227.1 L470.9,232.5 L472.7,242.5 L474.7,241.8 L476.6,262.6 L478.6,245.6 L480.4,243.3 L484.4,249.5 L487.1,243.3 L490.2,238.7 L491.7,223.2 L493.7,217.1 L495.9,221.7 L498.3,206.3 L500.2,199.3 L502,204 L504,193.9 L507.1,193.9 L510.2,197 L512.1,195.5 L513.8,204 L515.6,213.2 L519.5,212.4 L523.3,219.4 L525.6,216.3 L527.2,219.4 L529.2,210.1 L531.8,214 L534.1,213.2 L536.5,217.8 L538.8,216.3 L541.1,222.5 L543.4,223.2 L545.4,227.1 L548,221.7 L551.1,220.9 L554.2,218.8 L556.5,219 L558.9,214.7 L561.2,212.3 L563.5,211.6 L565.8,210 L569.7,214.7 L572,213.9 L575.1,217.7 L577.8,220.8 L579.7,217.7 L582.8,221.6 L585.1,227.8 L586.6,232.4 L589.7,236.3 L592.8,240.1 L595.1,246.3 L597.4,244.8 L599.8,243.2 L601.3,248.6 L603.6,239.4 L605.2,247.8 L607.2,253.2 L609.8,252.5 L612.9,248.6 L614.9,250.9 L616.7,264 L618.6,250.9 L621.4,254 L623.7,252.5 L626,250.2 L628.8,249.4 L632.2,240.1 L635.2,243.2 L638.3,242 L641.4,246.3 L644.5,249.4 L646.8,254 L648.4,266.4 L649.9,283.3 L651.9,281 L653.8,284.9 L655.8,291 L657.6,263.3 L659.6,271 L661.5,264 L663,267.9 L665.3,284.9 L667.7,282.6 L671,269.4 L673.8,280.2 L675.4,283.2 L676.9,302.5 L679.3,303.2 L683.1,308.6 L685.4,297.8 L687,294 L688.8,299.4 L690.8,311.7 L693.9,321 L696.5,334.9 L698.5,313.3 L700.6,307.9 L702.4,317.9 L704.7,329.5 L707,327.2 L710.9,317.1 L714,307.9 L716.3,307.1 L720.2,300.2 L723.2,302.5 L726.3,304 L727.9,300.9 L729.9,296.3 L731.7,299.4 L734,300.2 L736.4,303.2 L740.2,297.1 L742.2,300.9 L743.8,309.4 L747.2,307.1 L748.7,309.4 L750.6,325.6 L753.3,330.2 L755.6,336.4 L757.2,344.9 L759.2,336.4 L761.8,324.8 L763.4,325.6 L765.2,332.6 L766.9,313.3 L768.8,309.4 L771.1,297.8 L773.4,294 L774.9,295.5 L777.3,303.2 L779.6,297.8 L782.7,282.4 L785,287 L788.1,274 L791.2,277.9 L794,282.5 L796.1,275.6 L798.1,284.1 L800,287.9 L801.7,294.1 L803.5,284.1 L805.8,275.6 L808.1,280.2 L811.5,282.5 L814.3,278.7 L817.4,272.5 L819.7,265.6 L822,271.7 L823.9,271 L825.4,259.4 L827.4,254.8 L829.8,255.5 L832.8,242.4 L835.6,254 L838.2,247 L840.6,245.5 L842.9,232.4 L845.2,237 L847.5,244.7 L849.8,247 L852.9,247 L856.8,240.9 L860.6,234.7 L863.7,237 L866.8,238.5 L869.1,243.2 L871.4,243.2 L875.3,247 L877.6,237 L879.4,235.5 L881.9,225.4 L884.1,237.8 L886.1,244.7 L888.1,247 L889.9,242.4 L891.5,233.1 L893,242.4 L894.6,249.4 L896.1,251.7 L898.4,260.9 L900,273.3 L901.5,286 L903.1,268.6 L905.4,267.1 L908.5,264 L911.1,264.8 L913.6,268.6 L916.2,261.7 L918.8,252.4 L921.6,253.2 L923.9,254 L926.5,260.2 L928.5,253.2 L930.6,242.4 L932.4,240.9 L935.2,242.4 L937,230.1 L938.6,225.4 L940.4,228.5 L942.4,233.1 L944.8,236.2 L946.3,237.8 L948.6,233.1 L950.9,240.9 L953.2,243.2 L956.3,244.7 L959.1,248.6 L961,256.3 L962.2,265.6 L964.5,254.8 L966.4,251.7 L967.9,257.8 L969.8,247.8 L972.2,252.4 L974.4,255.5 L977.2,256.3 L979.5,251.7 L981.8,247.8 L983.6,251.7 L985.6,242.4 L988,242.4 L991,244.7 L993.4,249.4 L995.7,241.6 L998,240.1 L1000.3,244.7 L1002.6,238.5 L1003.9,254.8 L1004.9,270.2 L1006.8,264.8 L1008.8,260.9 L1010.3,268.6 L1012.3,282.5 L1015,283.5 L1016.5,288.6 L1018.4,280.9 L1020.4,271.7 L1023.5,268.6 L1024.6,264 L1026.1,253.9 L1028.1,259.3 L1030,274.8 L1032,289.4 L1034.3,285.6 L1035.8,277.8 L1037.8,270.9 L1041.2,273.2 L1044.3,275.5 L1047.4,282.5 L1049.3,276.3 L1051.6,271.7 L1053.6,278.6 L1055.6,283.2 L1058.2,277.1 L1061.3,274.8 L1064.1,269.4 L1067.2,261.6 L1069.8,263.2 L1072.9,264.7 L1075.2,270.9 L1078.3,265.5 L1080.6,257.8 L1082.9,252.4 L1085.2,255.5 L1087.5,258.5 L1090.6,249.3 L1092.9,257.8 L1096,258.5 L1098.3,249.3 L1099.1,260.9 L1099.9,309.5 L1102.2,310.2 L1104.2,314.9 L1106.4,308.7 L1109.9,305.6 L1111.9,314.9 L1113.4,320.2 L1115.9,326.1 L1118,340.6 L1119.8,315.1 L1122.2,322.7 L1124.4,329.5 L1127,328.7 L1129.5,330.4 L1131.2,341.4 L1133.8,339.7 L1135.5,342.3 L1137.5,335.5 L1140.2,339.7 L1143.1,350.7 L1146.5,366 L1149,360.9 L1151.1,367.7 L1153.3,353.3 L1155,359.2 L1156.7,381.3 L1160.6,389 L1163.5,380.5 L1166,385.6 L1168.6,369.4 L1170.8,381.3 L1173.2,399.1 L1176.2,396.6 L1179.3,408.5 L1181.3,407.6 L1184.4,395.7 L1187.8,400.8 L1191.5,389 L1194.9,393.2 L1197.9,379.6 L1200,398.3 L1202,387.2 L1203.7,406.8 L1205.9,415.3 L1208.1,402.5 L1211,411 L1213.6,403.4 L1215.3,382.2 L1217.3,377.9 L1219.2,359.2 L1221.5,365.2 L1222.8,355.2 L1225.6,340.4 L1228.9,329.3 L1231.1,334.8 L1233.3,346.9 L1235.7,351.5 L1238.5,348.7 L1240.7,351.5 L1242.6,358 L1244.4,348.7 L1246.9,346.9 L1249.6,355.2 L1251.9,368.1 L1253.3,378.3 L1256.1,380.2 L1259.8,379.3 L1262.6,382 L1266.3,372.8 L1268.5,379.3 L1270,397.8 L1272.8,410.7 L1275.6,426.5 L1279.3,434.8 L1281.5,429.3 L1283.9,434.8 L1285.7,418.1 L1288.5,412.6 L1290,407 L1291.9,395.9 L1294.1,410.7 L1296.3,421.9 L1297.3,431.6 L1299.5,419.9 L1302.5,405.2 L1304.7,407.4 L1307.3,410.3 L1309.1,403.7 L1310.8,394.2 L1312.7,397.9 L1314.2,414 L1314.9,425 L1316.7,427.2 L1318.6,440.4 L1320.8,453.6 L1323,446.2 L1325.2,449.2 L1328.4,458 L1331.1,449.9 L1334,443.3 L1336.6,438.2 L1338.4,437.4 L1340.1,441.8 L1342.1,428.7 L1344.3,414 L1346,405.2 L1348.4,403 L1351.6,402.3 L1353.8,408.9 L1356,408.9 L1357.7,408.1 L1359.6,399.3 L1361.8,398.6 L1364.8,400.1 L1367.7,403.7 L1369.9,402.3 L1372.1,403 L1374.8,398.6 L1376.5,392 L1377,381 L1377,91 L11.2,91 Z" fill="url(#rg)" clip-path="url(#below)"/>
<path d="M11.2,91.2 L13.6,93.2 L16,92 L18.4,96.5 L20.8,101.3 L22,99.3 L24,105.3 L26.5,109.3 L28,115.7 L30.1,126.2 L31.7,115.7 L32.9,110.9 L34.5,113.3 L36.1,117.3 L38.1,118.1 L40.1,115.7 L41.3,109.3 L42.5,104.5 L44.9,106.1 L47.3,110.9 L50.5,110.1 L52.5,108.5 L54.1,103.7 L56.2,99.7 L59.4,101.3 L62.6,98.5 L65.8,99.7 L69,96.5 L72.2,94 L75.4,97.3 L77.4,98 L78.3,96.9 L79.4,92.4 L80.3,88.6 L81.4,87.4 L82.8,89.1 L83.9,94.7 L84.7,97.2 L86.1,93.6 L88.1,91.3 L89.2,93.6 L90.6,96.3 L92.8,95.8 L95,94.1 L97.2,92.4 L98.3,92.7 L99.4,97.4 L101.1,100.8 L102.2,101.6 L103.9,99.7 L105.6,95.8 L107.2,98 L108.3,99.4 L109.7,96.9 L111.7,95.8 L113.3,97.4 L114.4,96.3 L115.8,94.4 L116.9,97.4 L118.3,100.8 L120.6,103 L122.8,104.7 L124.4,107.4 L125.6,109.7 L126.7,104.1 L128.3,101.9 L130,100.2 L131.1,96.9 L133.1,94.7 L135.3,98.2 L137.6,94.5 L139.9,91.8 L143.6,89.9 L146.9,82 L148.2,88.5 L149.6,99.6 L151.9,99.6 L154.7,104.7 L157,99.6 L160.7,93.1 L163.5,82 L166.3,82.5 L170.5,79.3 L173.2,86.7 L176,92.2 L180.2,84.4 L184.8,87.1 L188.5,86.2 L191.8,89.6 L195.5,91.5 L198,92.5 L199.5,96 L201.5,99.2 L203.3,106.1 L205.2,102 L207.5,105.6 L211.2,99.6 L214,106.6 L216.8,105.6 L219.1,108 L221,116 L222.5,125 L224.6,142.1 L226,128.1 L228.6,122.1 L230,132.1 L232.7,143.1 L234.7,132.1 L236.7,138.1 L239.1,153.2 L241.1,154.2 L243.1,160.2 L244.7,174.2 L247.1,172.2 L249.1,160.2 L250.7,151.8 L253.1,158.2 L254.7,167.2 L257.7,159.8 L260.1,172.2 L263.1,175.2 L264.7,184.3 L266.2,205.3 L267.6,186.3 L269.2,194.3 L272.2,224.4 L274.8,196.3 L277.2,184.3 L281.2,161.2 L283.2,171.2 L287.2,169.2 L290.2,158.2 L292.2,149.1 L295.2,145.1 L297.2,148.1 L300.9,140.1 L303.3,143.1 L305.3,142.1 L307.9,149.1 L310.3,130.1 L312.9,123.1 L314.9,135.1 L317.3,134.1 L320.3,133.1 L322.3,139.1 L324.3,142.1 L326.3,158.2 L328.3,178.2 L329.6,200 L330.4,212 L331.9,210.8 L333.5,217 L335.5,249.4 L337,232.4 L338.6,229.3 L339.7,254.8 L341.2,244.8 L343.2,245.5 L345.8,282.6 L348.1,266.4 L349.7,254 L351.5,258.6 L353.5,272.5 L355.6,269.4 L358.2,257.1 L360.2,250.9 L361.7,238.6 L364.4,237.8 L367,242.4 L369.8,234 L372.1,237 L375.9,246.3 L377.5,254 L378.7,271 L380.6,275.6 L382.9,285.6 L385.2,278.7 L387.5,259.4 L389,257.1 L391,266.4 L392.9,261 L395.2,266.4 L396.8,273.3 L398.8,275.6 L400.6,287.2 L402.2,272.5 L404,263.3 L405.6,261 L407.1,261.7 L409.1,259.4 L412.2,257.1 L414.2,253.2 L416,259.4 L418.4,240.9 L420.2,236.3 L422.2,244 L424.2,251.7 L426.1,250.9 L427.6,243.2 L429.9,233.2 L432.3,240.9 L434.6,244 L437.7,246.3 L439.5,261 L441.5,247.8 L443.1,241 L445.4,254.1 L447.4,252.6 L449.3,245.6 L452,246.4 L454.7,241 L457,239.4 L459.3,232.5 L460.5,181.6 L462.7,176.9 L464.4,191.6 L467,204 L468.5,227.1 L470.9,232.5 L472.7,242.5 L474.7,241.8 L476.6,262.6 L478.6,245.6 L480.4,243.3 L484.4,249.5 L487.1,243.3 L490.2,238.7 L491.7,223.2 L493.7,217.1 L495.9,221.7 L498.3,206.3 L500.2,199.3 L502,204 L504,193.9 L507.1,193.9 L510.2,197 L512.1,195.5 L513.8,204 L515.6,213.2 L519.5,212.4 L523.3,219.4 L525.6,216.3 L527.2,219.4 L529.2,210.1 L531.8,214 L534.1,213.2 L536.5,217.8 L538.8,216.3 L541.1,222.5 L543.4,223.2 L545.4,227.1 L548,221.7 L551.1,220.9 L554.2,218.8 L556.5,219 L558.9,214.7 L561.2,212.3 L563.5,211.6 L565.8,210 L569.7,214.7 L572,213.9 L575.1,217.7 L577.8,220.8 L579.7,217.7 L582.8,221.6 L585.1,227.8 L586.6,232.4 L589.7,236.3 L592.8,240.1 L595.1,246.3 L597.4,244.8 L599.8,243.2 L601.3,248.6 L603.6,239.4 L605.2,247.8 L607.2,253.2 L609.8,252.5 L612.9,248.6 L614.9,250.9 L616.7,264 L618.6,250.9 L621.4,254 L623.7,252.5 L626,250.2 L628.8,249.4 L632.2,240.1 L635.2,243.2 L638.3,242 L641.4,246.3 L644.5,249.4 L646.8,254 L648.4,266.4 L649.9,283.3 L651.9,281 L653.8,284.9 L655.8,291 L657.6,263.3 L659.6,271 L661.5,264 L663,267.9 L665.3,284.9 L667.7,282.6 L671,269.4 L673.8,280.2 L675.4,283.2 L676.9,302.5 L679.3,303.2 L683.1,308.6 L685.4,297.8 L687,294 L688.8,299.4 L690.8,311.7 L693.9,321 L696.5,334.9 L698.5,313.3 L700.6,307.9 L702.4,317.9 L704.7,329.5 L707,327.2 L710.9,317.1 L714,307.9 L716.3,307.1 L720.2,300.2 L723.2,302.5 L726.3,304 L727.9,300.9 L729.9,296.3 L731.7,299.4 L734,300.2 L736.4,303.2 L740.2,297.1 L742.2,300.9 L743.8,309.4 L747.2,307.1 L748.7,309.4 L750.6,325.6 L753.3,330.2 L755.6,336.4 L757.2,344.9 L759.2,336.4 L761.8,324.8 L763.4,325.6 L765.2,332.6 L766.9,313.3 L768.8,309.4 L771.1,297.8 L773.4,294 L774.9,295.5 L777.3,303.2 L779.6,297.8 L782.7,282.4 L785,287 L788.1,274 L791.2,277.9 L794,282.5 L796.1,275.6 L798.1,284.1 L800,287.9 L801.7,294.1 L803.5,284.1 L805.8,275.6 L808.1,280.2 L811.5,282.5 L814.3,278.7 L817.4,272.5 L819.7,265.6 L822,271.7 L823.9,271 L825.4,259.4 L827.4,254.8 L829.8,255.5 L832.8,242.4 L835.6,254 L838.2,247 L840.6,245.5 L842.9,232.4 L845.2,237 L847.5,244.7 L849.8,247 L852.9,247 L856.8,240.9 L860.6,234.7 L863.7,237 L866.8,238.5 L869.1,243.2 L871.4,243.2 L875.3,247 L877.6,237 L879.4,235.5 L881.9,225.4 L884.1,237.8 L886.1,244.7 L888.1,247 L889.9,242.4 L891.5,233.1 L893,242.4 L894.6,249.4 L896.1,251.7 L898.4,260.9 L900,273.3 L901.5,286 L903.1,268.6 L905.4,267.1 L908.5,264 L911.1,264.8 L913.6,268.6 L916.2,261.7 L918.8,252.4 L921.6,253.2 L923.9,254 L926.5,260.2 L928.5,253.2 L930.6,242.4 L932.4,240.9 L935.2,242.4 L937,230.1 L938.6,225.4 L940.4,228.5 L942.4,233.1 L944.8,236.2 L946.3,237.8 L948.6,233.1 L950.9,240.9 L953.2,243.2 L956.3,244.7 L959.1,248.6 L961,256.3 L962.2,265.6 L964.5,254.8 L966.4,251.7 L967.9,257.8 L969.8,247.8 L972.2,252.4 L974.4,255.5 L977.2,256.3 L979.5,251.7 L981.8,247.8 L983.6,251.7 L985.6,242.4 L988,242.4 L991,244.7 L993.4,249.4 L995.7,241.6 L998,240.1 L1000.3,244.7 L1002.6,238.5 L1003.9,254.8 L1004.9,270.2 L1006.8,264.8 L1008.8,260.9 L1010.3,268.6 L1012.3,282.5 L1015,283.5 L1016.5,288.6 L1018.4,280.9 L1020.4,271.7 L1023.5,268.6 L1024.6,264 L1026.1,253.9 L1028.1,259.3 L1030,274.8 L1032,289.4 L1034.3,285.6 L1035.8,277.8 L1037.8,270.9 L1041.2,273.2 L1044.3,275.5 L1047.4,282.5 L1049.3,276.3 L1051.6,271.7 L1053.6,278.6 L1055.6,283.2 L1058.2,277.1 L1061.3,274.8 L1064.1,269.4 L1067.2,261.6 L1069.8,263.2 L1072.9,264.7 L1075.2,270.9 L1078.3,265.5 L1080.6,257.8 L1082.9,252.4 L1085.2,255.5 L1087.5,258.5 L1090.6,249.3 L1092.9,257.8 L1096,258.5 L1098.3,249.3 L1099.1,260.9 L1099.9,309.5 L1102.2,310.2 L1104.2,314.9 L1106.4,308.7 L1109.9,305.6 L1111.9,314.9 L1113.4,320.2 L1115.9,326.1 L1118,340.6 L1119.8,315.1 L1122.2,322.7 L1124.4,329.5 L1127,328.7 L1129.5,330.4 L1131.2,341.4 L1133.8,339.7 L1135.5,342.3 L1137.5,335.5 L1140.2,339.7 L1143.1,350.7 L1146.5,366 L1149,360.9 L1151.1,367.7 L1153.3,353.3 L1155,359.2 L1156.7,381.3 L1160.6,389 L1163.5,380.5 L1166,385.6 L1168.6,369.4 L1170.8,381.3 L1173.2,399.1 L1176.2,396.6 L1179.3,408.5 L1181.3,407.6 L1184.4,395.7 L1187.8,400.8 L1191.5,389 L1194.9,393.2 L1197.9,379.6 L1200,398.3 L1202,387.2 L1203.7,406.8 L1205.9,415.3 L1208.1,402.5 L1211,411 L1213.6,403.4 L1215.3,382.2 L1217.3,377.9 L1219.2,359.2 L1221.5,365.2 L1222.8,355.2 L1225.6,340.4 L1228.9,329.3 L1231.1,334.8 L1233.3,346.9 L1235.7,351.5 L1238.5,348.7 L1240.7,351.5 L1242.6,358 L1244.4,348.7 L1246.9,346.9 L1249.6,355.2 L1251.9,368.1 L1253.3,378.3 L1256.1,380.2 L1259.8,379.3 L1262.6,382 L1266.3,372.8 L1268.5,379.3 L1270,397.8 L1272.8,410.7 L1275.6,426.5 L1279.3,434.8 L1281.5,429.3 L1283.9,434.8 L1285.7,418.1 L1288.5,412.6 L1290,407 L1291.9,395.9 L1294.1,410.7 L1296.3,421.9 L1297.3,431.6 L1299.5,419.9 L1302.5,405.2 L1304.7,407.4 L1307.3,410.3 L1309.1,403.7 L1310.8,394.2 L1312.7,397.9 L1314.2,414 L1314.9,425 L1316.7,427.2 L1318.6,440.4 L1320.8,453.6 L1323,446.2 L1325.2,449.2 L1328.4,458 L1331.1,449.9 L1334,443.3 L1336.6,438.2 L1338.4,437.4 L1340.1,441.8 L1342.1,428.7 L1344.3,414 L1346,405.2 L1348.4,403 L1351.6,402.3 L1353.8,408.9 L1356,408.9 L1357.7,408.1 L1359.6,399.3 L1361.8,398.6 L1364.8,400.1 L1367.7,403.7 L1369.9,402.3 L1372.1,403 L1374.8,398.6 L1376.5,392 L1377,381 L1377,91 L11.2,91 Z" fill="url(#gg)" clip-path="url(#above)"/>
<path d="M81,91h1v1h-1zM86,91h1v1h-1zM91,91h1v1h-1zM96,91h1v1h-1zM101,91h1v1h-1zM106,91h1v1h-1zM111,91h1v1h-1zM116,91h1v1h-1zM121,91h1v1h-1zM126,91h1v1h-1zM131,91h1v1h-1zM136,91h1v1h-1zM141,91h1v1h-1zM146,91h1v1h-1zM151,91h1v1h-1zM156,91h1v1h-1zM161,91h1v1h-1zM166,91h1v1h-1zM171,91h1v1h-1zM176,91h1v1h-1zM181,91h1v1h-1zM186,91h1v1h-1zM191,91h1v1h-1zM196,91h1v1h-1zM201,91h1v1h-1zM206,91h1v1h-1zM211,91h1v1h-1zM216,91h1v1h-1zM221,91h1v1h-1zM226,91h1v1h-1zM231,91h1v1h-1zM236,91h1v1h-1zM241,91h1v1h-1zM246,91h1v1h-1zM251,91h1v1h-1zM256,91h1v1h-1zM261,91h1v1h-1zM266,91h1v1h-1zM271,91h1v1h-1zM276,91h1v1h-1zM281,91h1v1h-1zM286,91h1v1h-1zM291,91h1v1h-1zM296,91h1v1h-1zM301,91h1v1h-1zM306,91h1v1h-1zM311,91h1v1h-1zM316,91h1v1h-1zM321,91h1v1h-1zM326,91h1v1h-1zM331,91h1v1h-1zM336,91h1v1h-1zM341,91h1v1h-1zM346,91h1v1h-1zM351,91h1v1h-1zM356,91h1v1h-1zM361,91h1v1h-1zM366,91h1v1h-1zM371,91h1v1h-1zM376,91h1v1h-1zM381,91h1v1h-1zM386,91h1v1h-1zM391,91h1v1h-1zM396,91h1v1h-1zM401,91h1v1h-1zM406,91h1v1h-1zM411,91h1v1h-1zM416,91h1v1h-1zM421,91h1v1h-1zM426,91h1v1h-1zM431,91h1v1h-1zM436,91h1v1h-1zM441,91h1v1h-1zM446,91h1v1h-1zM451,91h1v1h-1zM456,91h1v1h-1zM461,91h1v1h-1zM466,91h1v1h-1zM471,91h1v1h-1zM476,91h1v1h-1zM481,91h1v1h-1zM486,91h1v1h-1zM491,91h1v1h-1zM496,91h1v1h-1zM501,91h1v1h-1zM506,91h1v1h-1zM511,91h1v1h-1zM516,91h1v1h-1zM521,91h1v1h-1zM526,91h1v1h-1zM531,91h1v1h-1zM536,91h1v1h-1zM541,91h1v1h-1zM546,91h1v1h-1zM551,91h1v1h-1zM556,91h1v1h-1zM561,91h1v1h-1zM566,91h1v1h-1zM571,91h1v1h-1zM576,91h1v1h-1zM581,91h1v1h-1zM586,91h1v1h-1zM591,91h1v1h-1zM596,91h1v1h-1zM601,91h1v1h-1zM606,91h1v1h-1zM611,91h1v1h-1zM616,91h1v1h-1zM621,91h1v1h-1zM626,91h1v1h-1zM631,91h1v1h-1zM636,91h1v1h-1zM641,91h1v1h-1zM646,91h1v1h-1zM651,91h1v1h-1zM656,91h1v1h-1zM661,91h1v1h-1zM666,91h1v1h-1zM671,91h1v1h-1zM676,91h1v1h-1zM681,91h1v1h-1zM686,91h1v1h-1zM691,91h1v1h-1zM696,91h1v1h-1zM701,91h1v1h-1zM706,91h1v1h-1zM711,91h1v1h-1zM716,91h1v1h-1zM721,91h1v1h-1zM726,91h1v1h-1zM731,91h1v1h-1zM736,91h1v1h-1zM741,91h1v1h-1zM746,91h1v1h-1zM751,91h1v1h-1zM756,91h1v1h-1zM761,91h1v1h-1zM766,91h1v1h-1zM771,91h1v1h-1zM776,91h1v1h-1zM781,91h1v1h-1zM786,91h1v1h-1zM791,91h1v1h-1zM796,91h1v1h-1zM801,91h1v1h-1zM806,91h1v1h-1zM811,91h1v1h-1zM816,91h1v1h-1zM821,91h1v1h-1zM826,91h1v1h-1zM831,91h1v1h-1zM836,91h1v1h-1zM841,91h1v1h-1zM846,91h1v1h-1zM851,91h1v1h-1zM856,91h1v1h-1zM861,91h1v1h-1zM866,91h1v1h-1zM871,91h1v1h-1zM876,91h1v1h-1zM881,91h1v1h-1zM886,91h1v1h-1zM891,91h1v1h-1zM896,91h1v1h-1zM901,91h1v1h-1zM906,91h1v1h-1zM911,91h1v1h-1zM916,91h1v1h-1zM921,91h1v1h-1zM926,91h1v1h-1zM931,91h1v1h-1zM936,91h1v1h-1zM941,91h1v1h-1zM946,91h1v1h-1zM951,91h1v1h-1zM956,91h1v1h-1zM961,91h1v1h-1zM966,91h1v1h-1zM971,91h1v1h-1zM976,91h1v1h-1zM981,91h1v1h-1zM986,91h1v1h-1zM991,91h1v1h-1zM996,91h1v1h-1zM1001,91h1v1h-1zM1006,91h1v1h-1zM1011,91h1v1h-1zM1016,91h1v1h-1zM1021,91h1v1h-1zM1026,91h1v1h-1zM1031,91h1v1h-1zM1036,91h1v1h-1zM1041,91h1v1h-1zM1046,91h1v1h-1zM1051,91h1v1h-1zM1056,91h1v1h-1zM1061,91h1v1h-1zM1066,91h1v1h-1zM1071,91h1v1h-1zM1076,91h1v1h-1zM1081,91h1v1h-1zM1086,91h1v1h-1zM1091,91h1v1h-1zM1096,91h1v1h-1zM1101,91h1v1h-1zM1106,91h1v1h-1zM1111,91h1v1h-1zM1116,91h1v1h-1zM1121,91h1v1h-1zM1126,91h1v1h-1zM1131,91h1v1h-1zM1136,91h1v1h-1zM1141,91h1v1h-1zM1146,91h1v1h-1zM1151,91h1v1h-1zM1156,91h1v1h-1zM1161,91h1v1h-1zM1166,91h1v1h-1zM1171,91h1v1h-1zM1176,91h1v1h-1zM1181,91h1v1h-1zM1186,91h1v1h-1zM1191,91h1v1h-1zM1196,91h1v1h-1zM1201,91h1v1h-1zM1206,91h1v1h-1zM1211,91h1v1h-1zM1216,91h1v1h-1zM1221,91h1v1h-1zM1226,91h1v1h-1zM1231,91h1v1h-1zM1236,91h1v1h-1zM1241,91h1v1h-1zM1246,91h1v1h-1zM1251,91h1v1h-1zM1256,91h1v1h-1zM1261,91h1v1h-1zM1266,91h1v1h-1zM1271,91h1v1h-1zM1276,91h1v1h-1zM1281,91h1v1h-1zM1286,91h1v1h-1zM1291,91h1v1h-1zM1296,91h1v1h-1zM1301,91h1v1h-1zM1306,91h1v1h-1zM1311,91h1v1h-1zM1316,91h1v1h-1zM1321,91h1v1h-1zM1326,91h1v1h-1zM1331,91h1v1h-1zM1336,91h1v1h-1zM1341,91h1v1h-1zM1346,91h1v1h-1zM1351,91h1v1h-1zM1356,91h1v1h-1zM1361,91h1v1h-1zM1366,91h1v1h-1zM1371,91h1v1h-1zM1376,91h1v1h-1zM1381,91h1v1h-1zM1386,91h1v1h-1z" fill="#828a9b" shape-rendering="crispEdges"/>
<g fill="none" stroke-width="3" stroke-linejoin="round" stroke-linecap="round">
<path d="M11.2,91.2 L13.6,93.2 L16,92 L18.4,96.5 L20.8,101.3 L22,99.3 L24,105.3 L26.5,109.3 L28,115.7 L30.1,126.2 L31.7,115.7 L32.9,110.9 L34.5,113.3 L36.1,117.3 L38.1,118.1 L40.1,115.7 L41.3,109.3 L42.5,104.5 L44.9,106.1 L47.3,110.9 L50.5,110.1 L52.5,108.5 L54.1,103.7 L56.2,99.7 L59.4,101.3 L62.6,98.5 L65.8,99.7 L69,96.5 L72.2,94 L75.4,97.3 L77.4,98 L78.3,96.9 L79.4,92.4 L80.3,88.6 L81.4,87.4 L82.8,89.1 L83.9,94.7 L84.7,97.2 L86.1,93.6 L88.1,91.3 L89.2,93.6 L90.6,96.3 L92.8,95.8 L95,94.1 L97.2,92.4 L98.3,92.7 L99.4,97.4 L101.1,100.8 L102.2,101.6 L103.9,99.7 L105.6,95.8 L107.2,98 L108.3,99.4 L109.7,96.9 L111.7,95.8 L113.3,97.4 L114.4,96.3 L115.8,94.4 L116.9,97.4 L118.3,100.8 L120.6,103 L122.8,104.7 L124.4,107.4 L125.6,109.7 L126.7,104.1 L128.3,101.9 L130,100.2 L131.1,96.9 L133.1,94.7 L135.3,98.2 L137.6,94.5 L139.9,91.8 L143.6,89.9 L146.9,82 L148.2,88.5 L149.6,99.6 L151.9,99.6 L154.7,104.7 L157,99.6 L160.7,93.1 L163.5,82 L166.3,82.5 L170.5,79.3 L173.2,86.7 L176,92.2 L180.2,84.4 L184.8,87.1 L188.5,86.2 L191.8,89.6 L195.5,91.5 L198,92.5 L199.5,96 L201.5,99.2 L203.3,106.1 L205.2,102 L207.5,105.6 L211.2,99.6 L214,106.6 L216.8,105.6 L219.1,108 L221,116 L222.5,125 L224.6,142.1 L226,128.1 L228.6,122.1 L230,132.1 L232.7,143.1 L234.7,132.1 L236.7,138.1 L239.1,153.2 L241.1,154.2 L243.1,160.2 L244.7,174.2 L247.1,172.2 L249.1,160.2 L250.7,151.8 L253.1,158.2 L254.7,167.2 L257.7,159.8 L260.1,172.2 L263.1,175.2 L264.7,184.3 L266.2,205.3 L267.6,186.3 L269.2,194.3 L272.2,224.4 L274.8,196.3 L277.2,184.3 L281.2,161.2 L283.2,171.2 L287.2,169.2 L290.2,158.2 L292.2,149.1 L295.2,145.1 L297.2,148.1 L300.9,140.1 L303.3,143.1 L305.3,142.1 L307.9,149.1 L310.3,130.1 L312.9,123.1 L314.9,135.1 L317.3,134.1 L320.3,133.1 L322.3,139.1 L324.3,142.1 L326.3,158.2 L328.3,178.2 L329.6,200 L330.4,212 L331.9,210.8 L333.5,217 L335.5,249.4 L337,232.4 L338.6,229.3 L339.7,254.8 L341.2,244.8 L343.2,245.5 L345.8,282.6 L348.1,266.4 L349.7,254 L351.5,258.6 L353.5,272.5 L355.6,269.4 L358.2,257.1 L360.2,250.9 L361.7,238.6 L364.4,237.8 L367,242.4 L369.8,234 L372.1,237 L375.9,246.3 L377.5,254 L378.7,271 L380.6,275.6 L382.9,285.6 L385.2,278.7 L387.5,259.4 L389,257.1 L391,266.4 L392.9,261 L395.2,266.4 L396.8,273.3 L398.8,275.6 L400.6,287.2 L402.2,272.5 L404,263.3 L405.6,261 L407.1,261.7 L409.1,259.4 L412.2,257.1 L414.2,253.2 L416,259.4 L418.4,240.9 L420.2,236.3 L422.2,244 L424.2,251.7 L426.1,250.9 L427.6,243.2 L429.9,233.2 L432.3,240.9 L434.6,244 L437.7,246.3 L439.5,261 L441.5,247.8 L443.1,241 L445.4,254.1 L447.4,252.6 L449.3,245.6 L452,246.4 L454.7,241 L457,239.4 L459.3,232.5 L460.5,181.6 L462.7,176.9 L464.4,191.6 L467,204 L468.5,227.1 L470.9,232.5 L472.7,242.5 L474.7,241.8 L476.6,262.6 L478.6,245.6 L480.4,243.3 L484.4,249.5 L487.1,243.3 L490.2,238.7 L491.7,223.2 L493.7,217.1 L495.9,221.7 L498.3,206.3 L500.2,199.3 L502,204 L504,193.9 L507.1,193.9 L510.2,197 L512.1,195.5 L513.8,204 L515.6,213.2 L519.5,212.4 L523.3,219.4 L525.6,216.3 L527.2,219.4 L529.2,210.1 L531.8,214 L534.1,213.2 L536.5,217.8 L538.8,216.3 L541.1,222.5 L543.4,223.2 L545.4,227.1 L548,221.7 L551.1,220.9 L554.2,218.8 L556.5,219 L558.9,214.7 L561.2,212.3 L563.5,211.6 L565.8,210 L569.7,214.7 L572,213.9 L575.1,217.7 L577.8,220.8 L579.7,217.7 L582.8,221.6 L585.1,227.8 L586.6,232.4 L589.7,236.3 L592.8,240.1 L595.1,246.3 L597.4,244.8 L599.8,243.2 L601.3,248.6 L603.6,239.4 L605.2,247.8 L607.2,253.2 L609.8,252.5 L612.9,248.6 L614.9,250.9 L616.7,264 L618.6,250.9 L621.4,254 L623.7,252.5 L626,250.2 L628.8,249.4 L632.2,240.1 L635.2,243.2 L638.3,242 L641.4,246.3 L644.5,249.4 L646.8,254 L648.4,266.4 L649.9,283.3 L651.9,281 L653.8,284.9 L655.8,291 L657.6,263.3 L659.6,271 L661.5,264 L663,267.9 L665.3,284.9 L667.7,282.6 L671,269.4 L673.8,280.2 L675.4,283.2 L676.9,302.5 L679.3,303.2 L683.1,308.6 L685.4,297.8 L687,294 L688.8,299.4 L690.8,311.7 L693.9,321 L696.5,334.9 L698.5,313.3 L700.6,307.9 L702.4,317.9 L704.7,329.5 L707,327.2 L710.9,317.1 L714,307.9 L716.3,307.1 L720.2,300.2 L723.2,302.5 L726.3,304 L727.9,300.9 L729.9,296.3 L731.7,299.4 L734,300.2 L736.4,303.2 L740.2,297.1 L742.2,300.9 L743.8,309.4 L747.2,307.1 L748.7,309.4 L750.6,325.6 L753.3,330.2 L755.6,336.4 L757.2,344.9 L759.2,336.4 L761.8,324.8 L763.4,325.6 L765.2,332.6 L766.9,313.3 L768.8,309.4 L771.1,297.8 L773.4,294 L774.9,295.5 L777.3,303.2 L779.6,297.8 L782.7,282.4 L785,287 L788.1,274 L791.2,277.9 L794,282.5 L796.1,275.6 L798.1,284.1 L800,287.9 L801.7,294.1 L803.5,284.1 L805.8,275.6 L808.1,280.2 L811.5,282.5 L814.3,278.7 L817.4,272.5 L819.7,265.6 L822,271.7 L823.9,271 L825.4,259.4 L827.4,254.8 L829.8,255.5 L832.8,242.4 L835.6,254 L838.2,247 L840.6,245.5 L842.9,232.4 L845.2,237 L847.5,244.7 L849.8,247 L852.9,247 L856.8,240.9 L860.6,234.7 L863.7,237 L866.8,238.5 L869.1,243.2 L871.4,243.2 L875.3,247 L877.6,237 L879.4,235.5 L881.9,225.4 L884.1,237.8 L886.1,244.7 L888.1,247 L889.9,242.4 L891.5,233.1 L893,242.4 L894.6,249.4 L896.1,251.7 L898.4,260.9 L900,273.3 L901.5,286 L903.1,268.6 L905.4,267.1 L908.5,264 L911.1,264.8 L913.6,268.6 L916.2,261.7 L918.8,252.4 L921.6,253.2 L923.9,254 L926.5,260.2 L928.5,253.2 L930.6,242.4 L932.4,240.9 L935.2,242.4 L937,230.1 L938.6,225.4 L940.4,228.5 L942.4,233.1 L944.8,236.2 L946.3,237.8 L948.6,233.1 L950.9,240.9 L953.2,243.2 L956.3,244.7 L959.1,248.6 L961,256.3 L962.2,265.6 L964.5,254.8 L966.4,251.7 L967.9,257.8 L969.8,247.8 L972.2,252.4 L974.4,255.5 L977.2,256.3 L979.5,251.7 L981.8,247.8 L983.6,251.7 L985.6,242.4 L988,242.4 L991,244.7 L993.4,249.4 L995.7,241.6 L998,240.1 L1000.3,244.7 L1002.6,238.5 L1003.9,254.8 L1004.9,270.2 L1006.8,264.8 L1008.8,260.9 L1010.3,268.6 L1012.3,282.5 L1015,283.5 L1016.5,288.6 L1018.4,280.9 L1020.4,271.7 L1023.5,268.6 L1024.6,264 L1026.1,253.9 L1028.1,259.3 L1030,274.8 L1032,289.4 L1034.3,285.6 L1035.8,277.8 L1037.8,270.9 L1041.2,273.2 L1044.3,275.5 L1047.4,282.5 L1049.3,276.3 L1051.6,271.7 L1053.6,278.6 L1055.6,283.2 L1058.2,277.1 L1061.3,274.8 L1064.1,269.4 L1067.2,261.6 L1069.8,263.2 L1072.9,264.7 L1075.2,270.9 L1078.3,265.5 L1080.6,257.8 L1082.9,252.4 L1085.2,255.5 L1087.5,258.5 L1090.6,249.3 L1092.9,257.8 L1096,258.5 L1098.3,249.3 L1099.1,260.9 L1099.9,309.5 L1102.2,310.2 L1104.2,314.9 L1106.4,308.7 L1109.9,305.6 L1111.9,314.9 L1113.4,320.2 L1115.9,326.1 L1118,340.6 L1119.8,315.1 L1122.2,322.7 L1124.4,329.5 L1127,328.7 L1129.5,330.4 L1131.2,341.4 L1133.8,339.7 L1135.5,342.3 L1137.5,335.5 L1140.2,339.7 L1143.1,350.7 L1146.5,366 L1149,360.9 L1151.1,367.7 L1153.3,353.3 L1155,359.2 L1156.7,381.3 L1160.6,389 L1163.5,380.5 L1166,385.6 L1168.6,369.4 L1170.8,381.3 L1173.2,399.1 L1176.2,396.6 L1179.3,408.5 L1181.3,407.6 L1184.4,395.7 L1187.8,400.8 L1191.5,389 L1194.9,393.2 L1197.9,379.6 L1200,398.3 L1202,387.2 L1203.7,406.8 L1205.9,415.3 L1208.1,402.5 L1211,411 L1213.6,403.4 L1215.3,382.2 L1217.3,377.9 L1219.2,359.2 L1221.5,365.2 L1222.8,355.2 L1225.6,340.4 L1228.9,329.3 L1231.1,334.8 L1233.3,346.9 L1235.7,351.5 L1238.5,348.7 L1240.7,351.5 L1242.6,358 L1244.4,348.7 L1246.9,346.9 L1249.6,355.2 L1251.9,368.1 L1253.3,378.3 L1256.1,380.2 L1259.8,379.3 L1262.6,382 L1266.3,372.8 L1268.5,379.3 L1270,397.8 L1272.8,410.7 L1275.6,426.5 L1279.3,434.8 L1281.5,429.3 L1283.9,434.8 L1285.7,418.1 L1288.5,412.6 L1290,407 L1291.9,395.9 L1294.1,410.7 L1296.3,421.9 L1297.3,431.6 L1299.5,419.9 L1302.5,405.2 L1304.7,407.4 L1307.3,410.3 L1309.1,403.7 L1310.8,394.2 L1312.7,397.9 L1314.2,414 L1314.9,425 L1316.7,427.2 L1318.6,440.4 L1320.8,453.6 L1323,446.2 L1325.2,449.2 L1328.4,458 L1331.1,449.9 L1334,443.3 L1336.6,438.2 L1338.4,437.4 L1340.1,441.8 L1342.1,428.7 L1344.3,414 L1346,405.2 L1348.4,403 L1351.6,402.3 L1353.8,408.9 L1356,408.9 L1357.7,408.1 L1359.6,399.3 L1361.8,398.6 L1364.8,400.1 L1367.7,403.7 L1369.9,402.3 L1372.1,403 L1374.8,398.6 L1376.5,392 L1377,381" stroke="#d9484a" clip-path="url(#below)"/>
<path d="M11.2,91.2 L13.6,93.2 L16,92 L18.4,96.5 L20.8,101.3 L22,99.3 L24,105.3 L26.5,109.3 L28,115.7 L30.1,126.2 L31.7,115.7 L32.9,110.9 L34.5,113.3 L36.1,117.3 L38.1,118.1 L40.1,115.7 L41.3,109.3 L42.5,104.5 L44.9,106.1 L47.3,110.9 L50.5,110.1 L52.5,108.5 L54.1,103.7 L56.2,99.7 L59.4,101.3 L62.6,98.5 L65.8,99.7 L69,96.5 L72.2,94 L75.4,97.3 L77.4,98 L78.3,96.9 L79.4,92.4 L80.3,88.6 L81.4,87.4 L82.8,89.1 L83.9,94.7 L84.7,97.2 L86.1,93.6 L88.1,91.3 L89.2,93.6 L90.6,96.3 L92.8,95.8 L95,94.1 L97.2,92.4 L98.3,92.7 L99.4,97.4 L101.1,100.8 L102.2,101.6 L103.9,99.7 L105.6,95.8 L107.2,98 L108.3,99.4 L109.7,96.9 L111.7,95.8 L113.3,97.4 L114.4,96.3 L115.8,94.4 L116.9,97.4 L118.3,100.8 L120.6,103 L122.8,104.7 L124.4,107.4 L125.6,109.7 L126.7,104.1 L128.3,101.9 L130,100.2 L131.1,96.9 L133.1,94.7 L135.3,98.2 L137.6,94.5 L139.9,91.8 L143.6,89.9 L146.9,82 L148.2,88.5 L149.6,99.6 L151.9,99.6 L154.7,104.7 L157,99.6 L160.7,93.1 L163.5,82 L166.3,82.5 L170.5,79.3 L173.2,86.7 L176,92.2 L180.2,84.4 L184.8,87.1 L188.5,86.2 L191.8,89.6 L195.5,91.5 L198,92.5 L199.5,96 L201.5,99.2 L203.3,106.1 L205.2,102 L207.5,105.6 L211.2,99.6 L214,106.6 L216.8,105.6 L219.1,108 L221,116 L222.5,125 L224.6,142.1 L226,128.1 L228.6,122.1 L230,132.1 L232.7,143.1 L234.7,132.1 L236.7,138.1 L239.1,153.2 L241.1,154.2 L243.1,160.2 L244.7,174.2 L247.1,172.2 L249.1,160.2 L250.7,151.8 L253.1,158.2 L254.7,167.2 L257.7,159.8 L260.1,172.2 L263.1,175.2 L264.7,184.3 L266.2,205.3 L267.6,186.3 L269.2,194.3 L272.2,224.4 L274.8,196.3 L277.2,184.3 L281.2,161.2 L283.2,171.2 L287.2,169.2 L290.2,158.2 L292.2,149.1 L295.2,145.1 L297.2,148.1 L300.9,140.1 L303.3,143.1 L305.3,142.1 L307.9,149.1 L310.3,130.1 L312.9,123.1 L314.9,135.1 L317.3,134.1 L320.3,133.1 L322.3,139.1 L324.3,142.1 L326.3,158.2 L328.3,178.2 L329.6,200 L330.4,212 L331.9,210.8 L333.5,217 L335.5,249.4 L337,232.4 L338.6,229.3 L339.7,254.8 L341.2,244.8 L343.2,245.5 L345.8,282.6 L348.1,266.4 L349.7,254 L351.5,258.6 L353.5,272.5 L355.6,269.4 L358.2,257.1 L360.2,250.9 L361.7,238.6 L364.4,237.8 L367,242.4 L369.8,234 L372.1,237 L375.9,246.3 L377.5,254 L378.7,271 L380.6,275.6 L382.9,285.6 L385.2,278.7 L387.5,259.4 L389,257.1 L391,266.4 L392.9,261 L395.2,266.4 L396.8,273.3 L398.8,275.6 L400.6,287.2 L402.2,272.5 L404,263.3 L405.6,261 L407.1,261.7 L409.1,259.4 L412.2,257.1 L414.2,253.2 L416,259.4 L418.4,240.9 L420.2,236.3 L422.2,244 L424.2,251.7 L426.1,250.9 L427.6,243.2 L429.9,233.2 L432.3,240.9 L434.6,244 L437.7,246.3 L439.5,261 L441.5,247.8 L443.1,241 L445.4,254.1 L447.4,252.6 L449.3,245.6 L452,246.4 L454.7,241 L457,239.4 L459.3,232.5 L460.5,181.6 L462.7,176.9 L464.4,191.6 L467,204 L468.5,227.1 L470.9,232.5 L472.7,242.5 L474.7,241.8 L476.6,262.6 L478.6,245.6 L480.4,243.3 L484.4,249.5 L487.1,243.3 L490.2,238.7 L491.7,223.2 L493.7,217.1 L495.9,221.7 L498.3,206.3 L500.2,199.3 L502,204 L504,193.9 L507.1,193.9 L510.2,197 L512.1,195.5 L513.8,204 L515.6,213.2 L519.5,212.4 L523.3,219.4 L525.6,216.3 L527.2,219.4 L529.2,210.1 L531.8,214 L534.1,213.2 L536.5,217.8 L538.8,216.3 L541.1,222.5 L543.4,223.2 L545.4,227.1 L548,221.7 L551.1,220.9 L554.2,218.8 L556.5,219 L558.9,214.7 L561.2,212.3 L563.5,211.6 L565.8,210 L569.7,214.7 L572,213.9 L575.1,217.7 L577.8,220.8 L579.7,217.7 L582.8,221.6 L585.1,227.8 L586.6,232.4 L589.7,236.3 L592.8,240.1 L595.1,246.3 L597.4,244.8 L599.8,243.2 L601.3,248.6 L603.6,239.4 L605.2,247.8 L607.2,253.2 L609.8,252.5 L612.9,248.6 L614.9,250.9 L616.7,264 L618.6,250.9 L621.4,254 L623.7,252.5 L626,250.2 L628.8,249.4 L632.2,240.1 L635.2,243.2 L638.3,242 L641.4,246.3 L644.5,249.4 L646.8,254 L648.4,266.4 L649.9,283.3 L651.9,281 L653.8,284.9 L655.8,291 L657.6,263.3 L659.6,271 L661.5,264 L663,267.9 L665.3,284.9 L667.7,282.6 L671,269.4 L673.8,280.2 L675.4,283.2 L676.9,302.5 L679.3,303.2 L683.1,308.6 L685.4,297.8 L687,294 L688.8,299.4 L690.8,311.7 L693.9,321 L696.5,334.9 L698.5,313.3 L700.6,307.9 L702.4,317.9 L704.7,329.5 L707,327.2 L710.9,317.1 L714,307.9 L716.3,307.1 L720.2,300.2 L723.2,302.5 L726.3,304 L727.9,300.9 L729.9,296.3 L731.7,299.4 L734,300.2 L736.4,303.2 L740.2,297.1 L742.2,300.9 L743.8,309.4 L747.2,307.1 L748.7,309.4 L750.6,325.6 L753.3,330.2 L755.6,336.4 L757.2,344.9 L759.2,336.4 L761.8,324.8 L763.4,325.6 L765.2,332.6 L766.9,313.3 L768.8,309.4 L771.1,297.8 L773.4,294 L774.9,295.5 L777.3,303.2 L779.6,297.8 L782.7,282.4 L785,287 L788.1,274 L791.2,277.9 L794,282.5 L796.1,275.6 L798.1,284.1 L800,287.9 L801.7,294.1 L803.5,284.1 L805.8,275.6 L808.1,280.2 L811.5,282.5 L814.3,278.7 L817.4,272.5 L819.7,265.6 L822,271.7 L823.9,271 L825.4,259.4 L827.4,254.8 L829.8,255.5 L832.8,242.4 L835.6,254 L838.2,247 L840.6,245.5 L842.9,232.4 L845.2,237 L847.5,244.7 L849.8,247 L852.9,247 L856.8,240.9 L860.6,234.7 L863.7,237 L866.8,238.5 L869.1,243.2 L871.4,243.2 L875.3,247 L877.6,237 L879.4,235.5 L881.9,225.4 L884.1,237.8 L886.1,244.7 L888.1,247 L889.9,242.4 L891.5,233.1 L893,242.4 L894.6,249.4 L896.1,251.7 L898.4,260.9 L900,273.3 L901.5,286 L903.1,268.6 L905.4,267.1 L908.5,264 L911.1,264.8 L913.6,268.6 L916.2,261.7 L918.8,252.4 L921.6,253.2 L923.9,254 L926.5,260.2 L928.5,253.2 L930.6,242.4 L932.4,240.9 L935.2,242.4 L937,230.1 L938.6,225.4 L940.4,228.5 L942.4,233.1 L944.8,236.2 L946.3,237.8 L948.6,233.1 L950.9,240.9 L953.2,243.2 L956.3,244.7 L959.1,248.6 L961,256.3 L962.2,265.6 L964.5,254.8 L966.4,251.7 L967.9,257.8 L969.8,247.8 L972.2,252.4 L974.4,255.5 L977.2,256.3 L979.5,251.7 L981.8,247.8 L983.6,251.7 L985.6,242.4 L988,242.4 L991,244.7 L993.4,249.4 L995.7,241.6 L998,240.1 L1000.3,244.7 L1002.6,238.5 L1003.9,254.8 L1004.9,270.2 L1006.8,264.8 L1008.8,260.9 L1010.3,268.6 L1012.3,282.5 L1015,283.5 L1016.5,288.6 L1018.4,280.9 L1020.4,271.7 L1023.5,268.6 L1024.6,264 L1026.1,253.9 L1028.1,259.3 L1030,274.8 L1032,289.4 L1034.3,285.6 L1035.8,277.8 L1037.8,270.9 L1041.2,273.2 L1044.3,275.5 L1047.4,282.5 L1049.3,276.3 L1051.6,271.7 L1053.6,278.6 L1055.6,283.2 L1058.2,277.1 L1061.3,274.8 L1064.1,269.4 L1067.2,261.6 L1069.8,263.2 L1072.9,264.7 L1075.2,270.9 L1078.3,265.5 L1080.6,257.8 L1082.9,252.4 L1085.2,255.5 L1087.5,258.5 L1090.6,249.3 L1092.9,257.8 L1096,258.5 L1098.3,249.3 L1099.1,260.9 L1099.9,309.5 L1102.2,310.2 L1104.2,314.9 L1106.4,308.7 L1109.9,305.6 L1111.9,314.9 L1113.4,320.2 L1115.9,326.1 L1118,340.6 L1119.8,315.1 L1122.2,322.7 L1124.4,329.5 L1127,328.7 L1129.5,330.4 L1131.2,341.4 L1133.8,339.7 L1135.5,342.3 L1137.5,335.5 L1140.2,339.7 L1143.1,350.7 L1146.5,366 L1149,360.9 L1151.1,367.7 L1153.3,353.3 L1155,359.2 L1156.7,381.3 L1160.6,389 L1163.5,380.5 L1166,385.6 L1168.6,369.4 L1170.8,381.3 L1173.2,399.1 L1176.2,396.6 L1179.3,408.5 L1181.3,407.6 L1184.4,395.7 L1187.8,400.8 L1191.5,389 L1194.9,393.2 L1197.9,379.6 L1200,398.3 L1202,387.2 L1203.7,406.8 L1205.9,415.3 L1208.1,402.5 L1211,411 L1213.6,403.4 L1215.3,382.2 L1217.3,377.9 L1219.2,359.2 L1221.5,365.2 L1222.8,355.2 L1225.6,340.4 L1228.9,329.3 L1231.1,334.8 L1233.3,346.9 L1235.7,351.5 L1238.5,348.7 L1240.7,351.5 L1242.6,358 L1244.4,348.7 L1246.9,346.9 L1249.6,355.2 L1251.9,368.1 L1253.3,378.3 L1256.1,380.2 L1259.8,379.3 L1262.6,382 L1266.3,372.8 L1268.5,379.3 L1270,397.8 L1272.8,410.7 L1275.6,426.5 L1279.3,434.8 L1281.5,429.3 L1283.9,434.8 L1285.7,418.1 L1288.5,412.6 L1290,407 L1291.9,395.9 L1294.1,410.7 L1296.3,421.9 L1297.3,431.6 L1299.5,419.9 L1302.5,405.2 L1304.7,407.4 L1307.3,410.3 L1309.1,403.7 L1310.8,394.2 L1312.7,397.9 L1314.2,414 L1314.9,425 L1316.7,427.2 L1318.6,440.4 L1320.8,453.6 L1323,446.2 L1325.2,449.2 L1328.4,458 L1331.1,449.9 L1334,443.3 L1336.6,438.2 L1338.4,437.4 L1340.1,441.8 L1342.1,428.7 L1344.3,414 L1346,405.2 L1348.4,403 L1351.6,402.3 L1353.8,408.9 L1356,408.9 L1357.7,408.1 L1359.6,399.3 L1361.8,398.6 L1364.8,400.1 L1367.7,403.7 L1369.9,402.3 L1372.1,403 L1374.8,398.6 L1376.5,392 L1377,381" stroke="#58c38b" clip-path="url(#above)"/>
</g>
</g>
<rect x="10.5" y="75" width="67.5" height="34.3" fill="#fff" fill-opacity="0.87"/>
<text x="17.2" y="97.8" font-size="17" fill="#58667e" stroke="#58667e" stroke-width="0.15" textLength="55.2" lengthAdjust="spacingAndGlyphs">73.27K</text>
<circle cx="1377" cy="381" r="6" fill="#d9484a"/>
<g font-size="17" fill="#808a9d" stroke="#808a9d" stroke-width="0.3"><text x="1401.4" y="74.1" textLength="54.8" lengthAdjust="spacingAndGlyphs">74.00K</text><text x="1401.4" y="134.8" textLength="54.8" lengthAdjust="spacingAndGlyphs">72.00K</text><text x="1401.4" y="195.5" textLength="54.8" lengthAdjust="spacingAndGlyphs">70.00K</text><text x="1401.4" y="256.2" textLength="54.8" lengthAdjust="spacingAndGlyphs">68.00K</text><text x="1401.4" y="316.9" textLength="54.8" lengthAdjust="spacingAndGlyphs">66.00K</text><text x="1401.4" y="377.7" textLength="54.8" lengthAdjust="spacingAndGlyphs">64.00K</text><text x="1401.4" y="438.4" textLength="54.8" lengthAdjust="spacingAndGlyphs">62.00K</text><text x="1401.4" y="499.1" textLength="54.8" lengthAdjust="spacingAndGlyphs">60.00K</text><text x="1401.4" y="559.8" textLength="54.8" lengthAdjust="spacingAndGlyphs">58.00K</text></g>
<rect x="1388" y="369" width="83" height="27" fill="#d9484a"/>
<text x="1401.4" y="387.9" font-size="17" fill="#fff" textLength="56.4" lengthAdjust="spacingAndGlyphs">63.68K</text>
<g font-size="17.8" font-weight="bold" fill="#808a9d"><text x="79.30" y="601.4" text-anchor="middle" textLength="19.4" lengthAdjust="spacingAndGlyphs">14</text><text x="274.30" y="601.4" text-anchor="middle" textLength="19.0" lengthAdjust="spacingAndGlyphs">15</text><text x="469.45" y="601.4" text-anchor="middle" textLength="19.3" lengthAdjust="spacingAndGlyphs">16</text><text x="664.10" y="601.4" text-anchor="middle" textLength="18.8" lengthAdjust="spacingAndGlyphs">17</text><text x="859.20" y="601.4" text-anchor="middle" textLength="20.4" lengthAdjust="spacingAndGlyphs">18</text><text x="1054.00" y="601.4" text-anchor="middle" textLength="20.0" lengthAdjust="spacingAndGlyphs">19</text><text x="1249.65" y="601.4" text-anchor="middle" textLength="21.9" lengthAdjust="spacingAndGlyphs">20</text>
<text x="1411.7" y="613.8" textLength="38.5" lengthAdjust="spacingAndGlyphs">USD</text>
</g>
<g clip-path="url(#xclip)"><text x="1340" y="601.2" font-size="17" fill="#808a9d" stroke="#808a9d" stroke-width="0.3" textLength="66" lengthAdjust="spacingAndGlyphs">3:05 PM</text></g>
</svg>
</body></html>
